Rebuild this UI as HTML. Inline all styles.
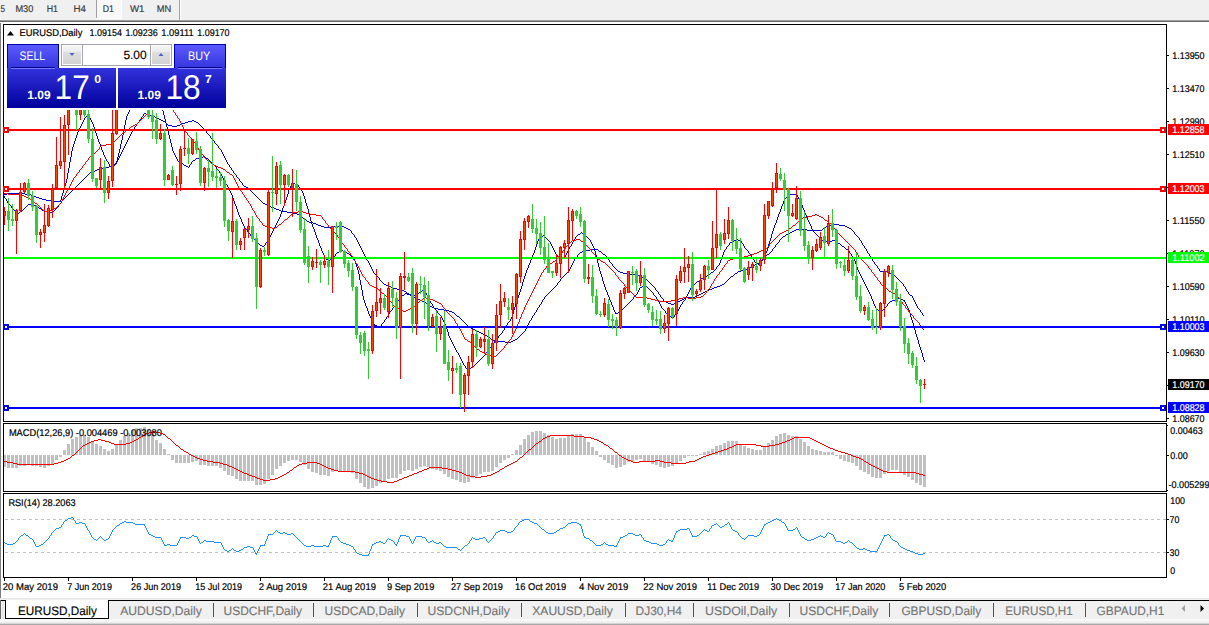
<!DOCTYPE html><html><head><meta charset="utf-8"><title>EURUSD,Daily</title><style>
html,body{margin:0;padding:0;background:#fff;width:1209px;height:625px;overflow:hidden}
svg{position:absolute;left:0;top:0;display:block}
text{font-family:"Liberation Sans", sans-serif;white-space:pre}
</style></head><body>
<svg width="1209" height="625" viewBox="0 0 1209 625" text-rendering="geometricPrecision">
<defs>
<linearGradient id="gtab" x1="0" y1="0" x2="0" y2="1"><stop offset="0" stop-color="#5a5aff"/><stop offset="1" stop-color="#3434dc"/></linearGradient>
<linearGradient id="gpan" x1="0" y1="0" x2="0" y2="1"><stop offset="0" stop-color="#3232dc"/><stop offset="1" stop-color="#00009c"/></linearGradient>
<linearGradient id="gbtn" x1="0" y1="0" x2="0" y2="1"><stop offset="0" stop-color="#f3f3f3"/><stop offset="0.33" stop-color="#ececec"/><stop offset="0.34" stop-color="#dedede"/><stop offset="1" stop-color="#d2d2d2"/></linearGradient>
<clipPath id="cm"><rect x="4" y="25" width="1162" height="396"/></clipPath>
<clipPath id="cmacd"><rect x="4" y="424" width="1162" height="67"/></clipPath>
<clipPath id="crsi"><rect x="4" y="494" width="1162" height="83"/></clipPath>
</defs>
<g shape-rendering="crispEdges">
<rect x="0" y="0" width="1209" height="625" fill="#ffffff"/>
<rect x="0" y="0" width="1209" height="20" fill="#f0f0f0"/>
<rect x="97" y="0" width="24" height="18" fill="#f8f8f8"/>
<rect x="121" y="0" width="1" height="19" fill="#ffffff"/>
<rect x="96" y="18" width="26" height="1" fill="#ffffff"/>
<rect x="96" y="0" width="1" height="18" fill="#a0a0a0"/>
<rect x="179" y="0" width="1" height="20" fill="#a0a0a0"/>
<rect x="180" y="0" width="1" height="20" fill="#ffffff"/>
<rect x="0" y="20" width="1209" height="1" fill="#a0a0a0"/>
<rect x="0" y="21" width="1209" height="1" fill="#696969"/>
<rect x="0" y="22" width="1209" height="1" fill="#ffffff"/>
<rect x="0" y="23" width="1" height="575" fill="#808080"/>
</g>
<path d="M144 113.5h2M143 114.5h1M146 114.5h4M143 115.5h1M150 115.5h2M142 116.5h1M152 116.5h3M141 117.5h1M155 117.5h2M141 118.5h1M157 118.5h2M140 119.5h1M159 119.5h2M139 120.5h1M161 120.5h2M192 120.5h2M139 121.5h1M163 121.5h2M188 121.5h4M194 121.5h2M138 122.5h1M165 122.5h1M185 122.5h3M196 122.5h2M137 123.5h1M166 123.5h1M182 123.5h3M198 123.5h1M136 124.5h1M167 124.5h1M180 124.5h2M199 124.5h1M136 125.5h1M168 125.5h4M177 125.5h3M200 125.5h1M135 126.5h1M172 126.5h5M201 126.5h1M134 127.5h1M202 127.5h1M134 128.5h1M203 128.5h1M133 129.5h1M204 129.5h1M132 130.5h1M205 130.5h1M132 131.5h1M206 131.5h1M131 132.5h1M206 132.5h1M131 133.5h1M207 133.5h1M130 134.5h1M208 134.5h1M130 135.5h1M209 135.5h1M129 136.5h1M210 136.5h1M129 137.5h1M210 137.5h1M128 138.5h1M211 138.5h1M128 139.5h1M212 139.5h1M127 140.5h1M213 140.5h1M127 141.5h1M214 141.5h1M126 142.5h1M214 142.5h1M126 143.5h1M215 143.5h1M125 144.5h1M216 144.5h1M125 145.5h1M217 145.5h1M124 146.5h1M218 146.5h1M124 147.5h1M218 147.5h1M123 148.5h1M219 148.5h1M123 149.5h1M220 149.5h1M122 150.5h1M221 150.5h1M122 151.5h1M221 151.5h1M121 152.5h1M222 152.5h1M121 153.5h1M222 153.5h1M120 154.5h1M223 154.5h1M120 155.5h1M223 155.5h1M119 156.5h1M224 156.5h1M119 157.5h1M224 157.5h1M118 158.5h1M225 158.5h1M118 159.5h1M225 159.5h1M117 160.5h1M226 160.5h1M117 161.5h1M226 161.5h1M116 162.5h1M227 162.5h1M116 163.5h1M227 163.5h1M114 164.5h2M228 164.5h1M112 165.5h2M229 165.5h1M109 166.5h3M229 166.5h1M105 167.5h4M230 167.5h1M101 168.5h4M231 168.5h1M97 169.5h4M231 169.5h1M95 170.5h2M232 170.5h1M92 171.5h3M233 171.5h1M90 172.5h2M233 172.5h1M89 173.5h1M234 173.5h1M88 174.5h1M235 174.5h1M87 175.5h1M236 175.5h1M86 176.5h1M236 176.5h1M85 177.5h1M237 177.5h1M84 178.5h1M238 178.5h1M83 179.5h1M239 179.5h1M82 180.5h1M239 180.5h1M81 181.5h1M240 181.5h1M80 182.5h1M241 182.5h1M79 183.5h1M242 183.5h1M78 184.5h1M242 184.5h1M77 185.5h1M243 185.5h1M76 186.5h1M244 186.5h2M75 187.5h1M246 187.5h2M74 188.5h1M248 188.5h1M73 189.5h1M249 189.5h1M72 190.5h1M250 190.5h1M71 191.5h1M251 191.5h1M70 192.5h1M252 192.5h1M69 193.5h1M253 193.5h1M68 194.5h1M254 194.5h1M67 195.5h1M255 195.5h1M4 196.5h1M66 196.5h1M256 196.5h1M4 197.5h1M65 197.5h1M257 197.5h1M5 198.5h1M64 198.5h1M258 198.5h1M6 199.5h1M63 199.5h1M259 199.5h1M6 200.5h1M62 200.5h1M260 200.5h1M7 201.5h1M61 201.5h1M261 201.5h1M7 202.5h1M61 202.5h1M262 202.5h1M8 203.5h1M60 203.5h1M263 203.5h2M9 204.5h1M28 204.5h6M59 204.5h1M265 204.5h2M10 205.5h1M27 205.5h1M34 205.5h2M58 205.5h1M267 205.5h2M11 206.5h1M26 206.5h1M36 206.5h2M58 206.5h1M269 206.5h2M11 207.5h1M25 207.5h1M38 207.5h1M57 207.5h1M271 207.5h3M12 208.5h1M24 208.5h1M39 208.5h2M56 208.5h1M274 208.5h2M13 209.5h1M23 209.5h1M41 209.5h1M55 209.5h1M276 209.5h3M14 210.5h1M22 210.5h1M42 210.5h2M54 210.5h1M279 210.5h2M15 211.5h1M20 211.5h2M44 211.5h3M53 211.5h1M281 211.5h6M16 212.5h2M19 212.5h1M47 212.5h6M287 212.5h6M18 213.5h1M293 213.5h4M297 214.5h3M300 215.5h1M301 216.5h1M302 217.5h1M303 218.5h2M305 219.5h1M306 220.5h1M307 221.5h2M309 222.5h4M313 223.5h3M316 224.5h2M831 224.5h8M318 225.5h3M827 225.5h4M839 225.5h6M321 226.5h3M331 226.5h13M826 226.5h1M845 226.5h2M324 227.5h7M344 227.5h2M825 227.5h1M847 227.5h2M346 228.5h2M823 228.5h2M849 228.5h2M348 229.5h2M796 229.5h11M822 229.5h1M851 229.5h1M350 230.5h1M794 230.5h2M807 230.5h15M852 230.5h1M351 231.5h1M792 231.5h2M853 231.5h1M351 232.5h1M790 232.5h2M854 232.5h1M352 233.5h1M788 233.5h2M854 233.5h1M353 234.5h1M786 234.5h2M855 234.5h1M354 235.5h1M785 235.5h1M856 235.5h1M354 236.5h1M783 236.5h2M857 236.5h1M355 237.5h1M782 237.5h1M858 237.5h1M356 238.5h1M781 238.5h1M859 238.5h1M356 239.5h1M780 239.5h1M859 239.5h1M357 240.5h1M779 240.5h1M860 240.5h1M357 241.5h1M779 241.5h1M861 241.5h1M358 242.5h1M778 242.5h1M861 242.5h1M358 243.5h1M777 243.5h1M862 243.5h1M359 244.5h1M776 244.5h1M862 244.5h1M359 245.5h1M775 245.5h1M863 245.5h1M360 246.5h1M775 246.5h1M864 246.5h1M360 247.5h1M774 247.5h1M864 247.5h1M361 248.5h1M773 248.5h1M865 248.5h1M361 249.5h1M590 249.5h8M772 249.5h1M866 249.5h1M362 250.5h1M585 250.5h5M598 250.5h1M772 250.5h1M866 250.5h1M362 251.5h1M582 251.5h3M599 251.5h2M771 251.5h1M867 251.5h1M363 252.5h1M580 252.5h2M601 252.5h1M770 252.5h1M867 252.5h1M363 253.5h1M579 253.5h1M602 253.5h1M769 253.5h1M868 253.5h1M364 254.5h1M578 254.5h1M603 254.5h2M767 254.5h2M869 254.5h1M364 255.5h1M577 255.5h1M605 255.5h1M766 255.5h1M869 255.5h1M365 256.5h1M577 256.5h1M606 256.5h1M765 256.5h1M870 256.5h1M365 257.5h1M576 257.5h1M606 257.5h1M764 257.5h1M871 257.5h1M366 258.5h1M575 258.5h1M607 258.5h1M763 258.5h1M871 258.5h1M366 259.5h1M574 259.5h1M608 259.5h1M762 259.5h1M872 259.5h1M367 260.5h1M574 260.5h1M609 260.5h1M761 260.5h1M872 260.5h1M368 261.5h1M573 261.5h1M609 261.5h1M760 261.5h1M873 261.5h1M368 262.5h1M573 262.5h1M610 262.5h1M759 262.5h1M874 262.5h1M369 263.5h1M572 263.5h1M611 263.5h1M757 263.5h2M874 263.5h1M369 264.5h1M572 264.5h1M612 264.5h1M755 264.5h2M875 264.5h1M370 265.5h1M571 265.5h1M612 265.5h1M753 265.5h2M876 265.5h1M370 266.5h1M571 266.5h1M613 266.5h1M751 266.5h2M877 266.5h1M371 267.5h1M570 267.5h1M614 267.5h1M749 267.5h2M877 267.5h1M371 268.5h1M570 268.5h1M615 268.5h1M747 268.5h2M878 268.5h1M372 269.5h1M569 269.5h1M616 269.5h1M745 269.5h2M879 269.5h1M372 270.5h1M569 270.5h1M617 270.5h1M741 270.5h4M879 270.5h1M373 271.5h1M568 271.5h1M618 271.5h2M738 271.5h3M880 271.5h7M373 272.5h1M567 272.5h1M620 272.5h3M737 272.5h1M887 272.5h2M374 273.5h1M566 273.5h1M623 273.5h5M735 273.5h2M889 273.5h2M375 274.5h1M565 274.5h1M628 274.5h8M734 274.5h1M891 274.5h2M376 275.5h1M564 275.5h1M636 275.5h4M733 275.5h1M893 275.5h2M377 276.5h1M563 276.5h1M640 276.5h2M731 276.5h2M895 276.5h1M378 277.5h1M562 277.5h1M642 277.5h1M730 277.5h1M896 277.5h1M379 278.5h1M561 278.5h1M643 278.5h2M729 278.5h1M897 278.5h1M379 279.5h1M560 279.5h1M645 279.5h2M728 279.5h1M898 279.5h1M380 280.5h1M560 280.5h1M647 280.5h1M727 280.5h1M899 280.5h1M381 281.5h1M559 281.5h1M648 281.5h1M726 281.5h1M900 281.5h1M382 282.5h1M558 282.5h1M649 282.5h1M725 282.5h1M901 282.5h1M383 283.5h1M557 283.5h1M650 283.5h1M724 283.5h1M902 283.5h1M384 284.5h2M557 284.5h1M651 284.5h1M722 284.5h2M903 284.5h1M386 285.5h2M556 285.5h1M652 285.5h1M720 285.5h2M903 285.5h1M388 286.5h3M555 286.5h1M653 286.5h1M717 286.5h3M904 286.5h1M391 287.5h2M554 287.5h1M654 287.5h1M714 287.5h3M905 287.5h1M393 288.5h4M553 288.5h1M655 288.5h1M712 288.5h2M905 288.5h1M397 289.5h4M552 289.5h1M655 289.5h1M709 289.5h3M906 289.5h1M401 290.5h3M551 290.5h1M656 290.5h1M707 290.5h2M906 290.5h1M404 291.5h2M550 291.5h1M657 291.5h1M705 291.5h2M907 291.5h1M406 292.5h1M549 292.5h1M658 292.5h1M703 292.5h2M908 292.5h1M407 293.5h2M548 293.5h1M658 293.5h1M701 293.5h2M908 293.5h1M409 294.5h2M547 294.5h1M659 294.5h1M699 294.5h2M909 294.5h1M411 295.5h1M546 295.5h1M660 295.5h1M697 295.5h2M910 295.5h2M412 296.5h2M545 296.5h1M660 296.5h1M695 296.5h2M912 296.5h1M414 297.5h2M544 297.5h1M661 297.5h1M686 297.5h9M912 297.5h1M416 298.5h2M544 298.5h1M662 298.5h1M684 298.5h2M913 298.5h1M418 299.5h2M543 299.5h1M663 299.5h1M682 299.5h2M913 299.5h1M420 300.5h2M542 300.5h1M663 300.5h1M680 300.5h2M914 300.5h1M422 301.5h2M542 301.5h1M664 301.5h2M678 301.5h2M914 301.5h1M424 302.5h2M541 302.5h1M666 302.5h2M676 302.5h2M915 302.5h1M426 303.5h1M541 303.5h1M668 303.5h3M674 303.5h2M915 303.5h1M427 304.5h2M540 304.5h1M671 304.5h3M916 304.5h1M429 305.5h1M539 305.5h1M916 305.5h1M430 306.5h2M539 306.5h1M917 306.5h1M432 307.5h2M538 307.5h1M917 307.5h1M434 308.5h4M537 308.5h1M918 308.5h1M438 309.5h6M537 309.5h1M919 309.5h1M444 310.5h5M536 310.5h1M920 310.5h1M449 311.5h3M536 311.5h1M920 311.5h1M452 312.5h2M535 312.5h1M921 312.5h1M454 313.5h1M534 313.5h1M922 313.5h1M455 314.5h1M534 314.5h1M922 314.5h1M456 315.5h1M533 315.5h1M923 315.5h1M457 316.5h2M532 316.5h1M459 317.5h1M532 317.5h1M460 318.5h1M531 318.5h1M461 319.5h1M531 319.5h1M462 320.5h1M530 320.5h1M463 321.5h1M529 321.5h1M464 322.5h1M529 322.5h1M465 323.5h1M528 323.5h1M466 324.5h1M528 324.5h1M467 325.5h1M527 325.5h1M468 326.5h1M527 326.5h1M469 327.5h2M526 327.5h1M471 328.5h2M526 328.5h1M473 329.5h2M525 329.5h1M475 330.5h2M525 330.5h1M477 331.5h2M524 331.5h1M479 332.5h2M523 332.5h1M481 333.5h2M522 333.5h1M483 334.5h2M521 334.5h1M485 335.5h2M520 335.5h1M487 336.5h2M519 336.5h1M489 337.5h1M518 337.5h1M490 338.5h1M517 338.5h1M491 339.5h2M515 339.5h2M493 340.5h4M513 340.5h2M497 341.5h8M511 341.5h2M505 342.5h6" fill="none" stroke="#0000cd" stroke-width="1" shape-rendering="crispEdges"/>
<path d="M131 101.5h30M131 102.5h1M160 102.5h1M131 103.5h1M161 103.5h1M130 104.5h1M161 104.5h1M130 105.5h1M161 105.5h1M130 106.5h1M161 106.5h1M130 107.5h1M162 107.5h1M129 108.5h1M162 108.5h1M129 109.5h1M162 109.5h1M129 110.5h1M162 110.5h1M129 111.5h1M163 111.5h1M128 112.5h1M163 112.5h1M128 113.5h1M163 113.5h1M88 114.5h1M127 114.5h1M163 114.5h1M87 115.5h2M127 115.5h1M164 115.5h1M86 116.5h1M89 116.5h1M126 116.5h1M164 116.5h1M85 117.5h1M89 117.5h1M126 117.5h1M164 117.5h1M84 118.5h1M90 118.5h1M126 118.5h1M164 118.5h1M84 119.5h1M90 119.5h1M126 119.5h1M165 119.5h1M83 120.5h1M91 120.5h1M125 120.5h1M165 120.5h1M83 121.5h1M91 121.5h1M125 121.5h1M165 121.5h1M82 122.5h1M92 122.5h1M125 122.5h1M165 122.5h1M82 123.5h1M92 123.5h1M125 123.5h1M166 123.5h1M81 124.5h1M93 124.5h1M125 124.5h1M166 124.5h1M81 125.5h1M93 125.5h1M124 125.5h1M166 125.5h1M80 126.5h1M93 126.5h1M124 126.5h1M166 126.5h1M80 127.5h1M94 127.5h1M124 127.5h1M167 127.5h1M79 128.5h1M94 128.5h1M124 128.5h1M167 128.5h1M79 129.5h1M94 129.5h1M124 129.5h1M167 129.5h1M78 130.5h1M95 130.5h1M123 130.5h1M167 130.5h1M78 131.5h1M95 131.5h1M123 131.5h1M168 131.5h1M77 132.5h1M95 132.5h1M123 132.5h1M168 132.5h1M77 133.5h1M96 133.5h1M123 133.5h1M168 133.5h1M77 134.5h1M96 134.5h1M123 134.5h1M168 134.5h1M76 135.5h1M96 135.5h1M122 135.5h1M169 135.5h1M76 136.5h1M97 136.5h1M122 136.5h1M169 136.5h1M76 137.5h1M97 137.5h1M122 137.5h1M169 137.5h1M75 138.5h1M97 138.5h1M122 138.5h1M169 138.5h1M75 139.5h1M98 139.5h1M122 139.5h1M170 139.5h1M75 140.5h1M98 140.5h1M121 140.5h1M170 140.5h1M74 141.5h1M98 141.5h1M121 141.5h1M170 141.5h1M74 142.5h1M99 142.5h1M121 142.5h1M170 142.5h1M74 143.5h1M99 143.5h1M121 143.5h1M171 143.5h1M73 144.5h1M100 144.5h1M120 144.5h1M171 144.5h1M73 145.5h1M100 145.5h1M120 145.5h1M171 145.5h1M73 146.5h1M100 146.5h1M120 146.5h1M171 146.5h1M72 147.5h1M101 147.5h1M120 147.5h1M172 147.5h1M72 148.5h1M101 148.5h1M120 148.5h1M172 148.5h1M72 149.5h1M101 149.5h1M119 149.5h1M172 149.5h1M72 150.5h1M102 150.5h1M119 150.5h1M172 150.5h1M71 151.5h1M102 151.5h1M119 151.5h1M173 151.5h1M71 152.5h1M103 152.5h1M119 152.5h1M173 152.5h1M71 153.5h1M103 153.5h1M118 153.5h1M174 153.5h1M71 154.5h1M103 154.5h1M118 154.5h1M174 154.5h1M71 155.5h1M104 155.5h1M118 155.5h1M175 155.5h1M71 156.5h1M104 156.5h1M118 156.5h1M175 156.5h1M203 156.5h2M70 157.5h1M105 157.5h1M117 157.5h1M176 157.5h1M199 157.5h4M205 157.5h1M70 158.5h1M105 158.5h1M117 158.5h1M176 158.5h1M196 158.5h3M206 158.5h2M70 159.5h1M106 159.5h1M117 159.5h1M177 159.5h1M195 159.5h1M208 159.5h1M70 160.5h1M106 160.5h1M117 160.5h1M177 160.5h1M193 160.5h2M209 160.5h1M70 161.5h1M107 161.5h1M116 161.5h1M178 161.5h2M192 161.5h1M210 161.5h1M69 162.5h1M108 162.5h1M116 162.5h1M180 162.5h1M191 162.5h1M211 162.5h1M69 163.5h1M108 163.5h1M115 163.5h1M181 163.5h2M191 163.5h1M212 163.5h1M69 164.5h1M109 164.5h1M115 164.5h1M183 164.5h1M190 164.5h1M213 164.5h1M69 165.5h1M109 165.5h1M113 165.5h2M184 165.5h2M189 165.5h1M214 165.5h1M69 166.5h1M110 166.5h3M186 166.5h2M189 166.5h1M215 166.5h1M69 167.5h1M188 167.5h1M216 167.5h1M68 168.5h1M216 168.5h1M68 169.5h1M217 169.5h1M68 170.5h1M218 170.5h1M68 171.5h1M219 171.5h1M68 172.5h1M219 172.5h1M67 173.5h1M220 173.5h1M67 174.5h1M221 174.5h1M67 175.5h1M221 175.5h1M67 176.5h1M222 176.5h1M67 177.5h1M222 177.5h1M67 178.5h1M223 178.5h1M66 179.5h1M223 179.5h1M66 180.5h1M224 180.5h1M66 181.5h1M224 181.5h1M66 182.5h1M225 182.5h1M65 183.5h1M225 183.5h1M292 183.5h3M65 184.5h1M226 184.5h1M291 184.5h1M295 184.5h3M65 185.5h1M227 185.5h1M291 185.5h1M298 185.5h1M64 186.5h1M227 186.5h1M290 186.5h1M298 186.5h1M64 187.5h1M228 187.5h1M290 187.5h1M299 187.5h1M64 188.5h1M228 188.5h1M289 188.5h1M300 188.5h1M64 189.5h1M229 189.5h1M289 189.5h1M301 189.5h1M63 190.5h1M229 190.5h1M288 190.5h1M301 190.5h1M63 191.5h1M230 191.5h1M288 191.5h1M302 191.5h1M63 192.5h1M230 192.5h1M288 192.5h1M302 192.5h1M7 193.5h18M62 193.5h1M231 193.5h1M288 193.5h1M303 193.5h1M4 194.5h3M25 194.5h6M62 194.5h1M231 194.5h1M287 194.5h1M303 194.5h1M789 194.5h8M31 195.5h2M62 195.5h1M232 195.5h1M287 195.5h1M303 195.5h1M788 195.5h1M797 195.5h1M33 196.5h3M61 196.5h1M232 196.5h1M287 196.5h1M304 196.5h1M787 196.5h1M797 196.5h1M36 197.5h3M61 197.5h1M232 197.5h1M286 197.5h1M304 197.5h1M786 197.5h1M798 197.5h1M39 198.5h3M61 198.5h1M233 198.5h1M286 198.5h1M304 198.5h1M785 198.5h1M798 198.5h1M42 199.5h4M61 199.5h1M233 199.5h1M286 199.5h1M305 199.5h1M784 199.5h1M799 199.5h1M46 200.5h8M60 200.5h1M233 200.5h1M285 200.5h1M305 200.5h1M784 200.5h1M799 200.5h1M54 201.5h7M234 201.5h1M285 201.5h1M305 201.5h1M783 201.5h1M800 201.5h1M234 202.5h1M285 202.5h1M305 202.5h1M783 202.5h1M800 202.5h1M234 203.5h1M284 203.5h1M306 203.5h1M783 203.5h1M801 203.5h1M235 204.5h1M284 204.5h1M306 204.5h1M782 204.5h1M801 204.5h1M235 205.5h1M284 205.5h1M306 205.5h1M782 205.5h1M802 205.5h1M236 206.5h1M283 206.5h1M307 206.5h1M781 206.5h1M802 206.5h1M236 207.5h1M283 207.5h1M307 207.5h1M781 207.5h1M802 207.5h1M236 208.5h1M282 208.5h1M307 208.5h1M781 208.5h1M803 208.5h1M237 209.5h1M282 209.5h1M308 209.5h1M780 209.5h1M803 209.5h1M237 210.5h1M282 210.5h1M308 210.5h1M780 210.5h1M804 210.5h1M237 211.5h1M281 211.5h1M308 211.5h1M780 211.5h1M804 211.5h1M238 212.5h1M281 212.5h1M308 212.5h1M779 212.5h1M804 212.5h1M238 213.5h1M281 213.5h1M309 213.5h1M779 213.5h1M805 213.5h1M238 214.5h1M280 214.5h1M309 214.5h1M778 214.5h1M805 214.5h1M239 215.5h1M280 215.5h1M309 215.5h1M778 215.5h1M806 215.5h1M239 216.5h1M280 216.5h1M309 216.5h1M778 216.5h1M806 216.5h1M240 217.5h1M279 217.5h1M310 217.5h1M777 217.5h1M807 217.5h1M240 218.5h1M279 218.5h1M310 218.5h1M777 218.5h1M807 218.5h1M241 219.5h1M278 219.5h1M310 219.5h1M777 219.5h1M807 219.5h1M241 220.5h1M278 220.5h1M310 220.5h1M776 220.5h1M808 220.5h1M241 221.5h1M277 221.5h1M311 221.5h1M776 221.5h1M808 221.5h1M242 222.5h1M277 222.5h1M311 222.5h1M776 222.5h1M809 222.5h1M242 223.5h1M276 223.5h1M311 223.5h1M775 223.5h1M809 223.5h1M243 224.5h1M276 224.5h1M312 224.5h1M775 224.5h1M810 224.5h1M243 225.5h1M275 225.5h1M312 225.5h1M774 225.5h1M810 225.5h1M244 226.5h1M275 226.5h1M312 226.5h1M774 226.5h1M811 226.5h1M244 227.5h1M274 227.5h1M313 227.5h1M774 227.5h1M811 227.5h1M245 228.5h1M274 228.5h1M313 228.5h1M773 228.5h1M811 228.5h1M246 229.5h1M273 229.5h1M314 229.5h1M773 229.5h1M812 229.5h1M247 230.5h1M273 230.5h1M314 230.5h1M773 230.5h1M812 230.5h1M247 231.5h1M272 231.5h1M314 231.5h1M772 231.5h1M813 231.5h1M248 232.5h1M272 232.5h1M315 232.5h1M581 232.5h1M772 232.5h1M814 232.5h1M249 233.5h1M271 233.5h1M315 233.5h1M580 233.5h1M582 233.5h1M772 233.5h1M815 233.5h1M250 234.5h1M271 234.5h1M315 234.5h1M578 234.5h2M583 234.5h2M771 234.5h1M816 234.5h1M250 235.5h1M270 235.5h1M316 235.5h1M543 235.5h1M577 235.5h1M585 235.5h1M771 235.5h1M817 235.5h1M251 236.5h1M270 236.5h1M316 236.5h1M542 236.5h1M544 236.5h1M576 236.5h1M586 236.5h1M771 236.5h1M818 236.5h1M252 237.5h1M269 237.5h1M316 237.5h1M540 237.5h2M545 237.5h1M575 237.5h1M587 237.5h1M771 237.5h1M819 237.5h1M253 238.5h1M268 238.5h1M317 238.5h1M539 238.5h1M546 238.5h1M575 238.5h1M588 238.5h1M770 238.5h1M820 238.5h1M254 239.5h1M268 239.5h1M317 239.5h1M538 239.5h1M547 239.5h1M574 239.5h1M589 239.5h1M736 239.5h2M770 239.5h1M821 239.5h1M255 240.5h1M267 240.5h1M318 240.5h1M538 240.5h1M548 240.5h1M574 240.5h1M590 240.5h1M734 240.5h2M738 240.5h3M770 240.5h1M822 240.5h1M832 240.5h3M256 241.5h1M267 241.5h1M318 241.5h1M537 241.5h1M549 241.5h1M573 241.5h1M590 241.5h1M732 241.5h2M741 241.5h1M769 241.5h1M823 241.5h9M835 241.5h2M257 242.5h1M266 242.5h1M318 242.5h1M537 242.5h1M550 242.5h1M572 242.5h1M591 242.5h1M730 242.5h2M741 242.5h1M769 242.5h1M837 242.5h1M258 243.5h1M265 243.5h1M319 243.5h1M537 243.5h1M550 243.5h1M572 243.5h1M591 243.5h1M729 243.5h1M742 243.5h1M769 243.5h1M838 243.5h2M259 244.5h1M265 244.5h1M319 244.5h1M536 244.5h1M551 244.5h1M571 244.5h1M592 244.5h1M729 244.5h1M743 244.5h1M768 244.5h1M840 244.5h1M260 245.5h2M264 245.5h1M319 245.5h1M536 245.5h1M551 245.5h1M571 245.5h1M592 245.5h1M728 245.5h1M743 245.5h1M768 245.5h1M841 245.5h1M262 246.5h2M320 246.5h1M536 246.5h1M552 246.5h1M570 246.5h1M593 246.5h1M727 246.5h1M744 246.5h1M768 246.5h1M842 246.5h2M320 247.5h1M535 247.5h1M552 247.5h1M569 247.5h1M593 247.5h1M726 247.5h1M744 247.5h1M768 247.5h1M844 247.5h1M321 248.5h1M535 248.5h1M553 248.5h1M569 248.5h1M594 248.5h1M726 248.5h1M745 248.5h1M767 248.5h1M845 248.5h1M321 249.5h1M535 249.5h1M553 249.5h1M568 249.5h1M594 249.5h1M725 249.5h1M746 249.5h1M767 249.5h1M846 249.5h2M321 250.5h1M341 250.5h2M534 250.5h1M554 250.5h1M568 250.5h1M594 250.5h1M724 250.5h1M747 250.5h1M767 250.5h1M848 250.5h1M322 251.5h1M339 251.5h2M343 251.5h2M534 251.5h1M554 251.5h1M567 251.5h1M595 251.5h1M724 251.5h1M748 251.5h1M766 251.5h1M849 251.5h1M322 252.5h1M337 252.5h2M345 252.5h2M534 252.5h1M555 252.5h1M567 252.5h1M595 252.5h1M723 252.5h1M748 252.5h1M766 252.5h1M849 252.5h1M323 253.5h1M336 253.5h1M347 253.5h2M533 253.5h1M555 253.5h1M566 253.5h1M595 253.5h1M723 253.5h1M749 253.5h1M765 253.5h1M850 253.5h1M323 254.5h1M335 254.5h1M349 254.5h1M533 254.5h1M556 254.5h1M566 254.5h1M595 254.5h1M723 254.5h1M750 254.5h1M765 254.5h1M851 254.5h1M324 255.5h1M335 255.5h1M350 255.5h1M532 255.5h1M557 255.5h1M565 255.5h1M596 255.5h1M722 255.5h1M751 255.5h1M765 255.5h1M851 255.5h1M324 256.5h1M334 256.5h1M351 256.5h1M532 256.5h1M557 256.5h1M565 256.5h1M596 256.5h1M722 256.5h1M751 256.5h1M764 256.5h1M852 256.5h1M325 257.5h1M333 257.5h1M352 257.5h1M532 257.5h1M558 257.5h1M562 257.5h3M596 257.5h1M722 257.5h1M752 257.5h1M764 257.5h1M853 257.5h1M325 258.5h1M332 258.5h1M353 258.5h1M531 258.5h1M559 258.5h3M596 258.5h1M721 258.5h1M753 258.5h1M763 258.5h1M853 258.5h1M326 259.5h2M330 259.5h2M354 259.5h1M531 259.5h1M597 259.5h1M721 259.5h1M753 259.5h1M763 259.5h1M854 259.5h1M328 260.5h2M354 260.5h1M530 260.5h1M597 260.5h1M720 260.5h1M754 260.5h1M762 260.5h1M854 260.5h1M355 261.5h1M530 261.5h1M597 261.5h1M720 261.5h1M754 261.5h1M761 261.5h1M855 261.5h1M355 262.5h1M530 262.5h1M597 262.5h1M720 262.5h1M755 262.5h1M761 262.5h1M855 262.5h1M355 263.5h1M529 263.5h1M598 263.5h1M719 263.5h1M756 263.5h2M760 263.5h1M855 263.5h1M356 264.5h1M529 264.5h1M598 264.5h1M719 264.5h1M758 264.5h2M856 264.5h1M356 265.5h1M528 265.5h1M598 265.5h1M718 265.5h1M856 265.5h1M356 266.5h1M528 266.5h1M598 266.5h1M717 266.5h1M856 266.5h1M357 267.5h1M528 267.5h1M599 267.5h1M716 267.5h1M857 267.5h1M357 268.5h1M527 268.5h1M599 268.5h1M716 268.5h1M857 268.5h1M357 269.5h1M527 269.5h1M599 269.5h1M715 269.5h1M857 269.5h1M358 270.5h1M526 270.5h1M599 270.5h1M714 270.5h1M858 270.5h1M358 271.5h1M526 271.5h1M600 271.5h1M713 271.5h1M858 271.5h1M358 272.5h1M526 272.5h1M600 272.5h1M711 272.5h2M859 272.5h1M358 273.5h1M525 273.5h1M600 273.5h1M710 273.5h1M859 273.5h1M359 274.5h1M525 274.5h1M601 274.5h1M708 274.5h2M860 274.5h1M359 275.5h1M525 275.5h1M601 275.5h1M707 275.5h1M860 275.5h1M359 276.5h1M524 276.5h1M601 276.5h1M705 276.5h2M861 276.5h1M359 277.5h1M524 277.5h1M602 277.5h1M703 277.5h2M861 277.5h1M359 278.5h1M524 278.5h1M602 278.5h1M701 278.5h2M862 278.5h1M359 279.5h1M523 279.5h1M602 279.5h1M700 279.5h1M862 279.5h1M360 280.5h1M523 280.5h1M602 280.5h1M699 280.5h1M863 280.5h1M360 281.5h1M523 281.5h1M603 281.5h1M697 281.5h2M863 281.5h1M360 282.5h1M522 282.5h1M603 282.5h1M696 282.5h1M864 282.5h1M360 283.5h1M522 283.5h1M603 283.5h1M695 283.5h1M864 283.5h1M360 284.5h1M522 284.5h1M604 284.5h1M694 284.5h1M865 284.5h1M361 285.5h1M522 285.5h1M604 285.5h1M644 285.5h2M693 285.5h1M865 285.5h1M361 286.5h1M521 286.5h1M604 286.5h1M642 286.5h2M646 286.5h1M692 286.5h1M866 286.5h1M361 287.5h1M521 287.5h1M605 287.5h1M640 287.5h2M647 287.5h1M691 287.5h1M866 287.5h1M361 288.5h1M521 288.5h1M605 288.5h1M639 288.5h1M648 288.5h1M690 288.5h1M867 288.5h1M361 289.5h1M520 289.5h1M605 289.5h1M639 289.5h1M649 289.5h1M690 289.5h1M867 289.5h1M362 290.5h1M422 290.5h1M520 290.5h1M606 290.5h1M638 290.5h1M650 290.5h1M689 290.5h1M868 290.5h1M362 291.5h1M421 291.5h1M423 291.5h2M520 291.5h1M606 291.5h1M638 291.5h1M651 291.5h1M689 291.5h1M868 291.5h1M362 292.5h1M419 292.5h2M425 292.5h1M519 292.5h1M607 292.5h1M637 292.5h1M652 292.5h1M688 292.5h1M869 292.5h1M362 293.5h1M405 293.5h2M418 293.5h1M426 293.5h1M519 293.5h1M607 293.5h1M637 293.5h1M653 293.5h1M688 293.5h1M869 293.5h1M362 294.5h1M404 294.5h1M407 294.5h3M415 294.5h3M426 294.5h1M519 294.5h1M607 294.5h1M636 294.5h1M653 294.5h1M687 294.5h1M870 294.5h1M362 295.5h1M402 295.5h2M410 295.5h5M427 295.5h1M518 295.5h1M608 295.5h1M635 295.5h1M654 295.5h1M687 295.5h1M870 295.5h1M363 296.5h1M401 296.5h1M427 296.5h1M518 296.5h1M608 296.5h1M634 296.5h1M655 296.5h1M686 296.5h1M871 296.5h1M363 297.5h1M400 297.5h1M428 297.5h1M518 297.5h1M609 297.5h1M633 297.5h1M656 297.5h1M686 297.5h1M871 297.5h1M363 298.5h1M399 298.5h1M428 298.5h1M517 298.5h1M609 298.5h1M633 298.5h1M656 298.5h1M685 298.5h1M871 298.5h1M897 298.5h3M363 299.5h1M399 299.5h1M429 299.5h1M517 299.5h1M609 299.5h1M632 299.5h1M657 299.5h1M685 299.5h1M872 299.5h1M895 299.5h2M900 299.5h3M364 300.5h1M398 300.5h1M429 300.5h1M517 300.5h1M610 300.5h1M631 300.5h1M658 300.5h1M684 300.5h1M872 300.5h1M892 300.5h3M903 300.5h2M364 301.5h1M397 301.5h1M430 301.5h1M516 301.5h1M610 301.5h1M630 301.5h1M658 301.5h1M683 301.5h1M873 301.5h1M890 301.5h2M904 301.5h1M364 302.5h1M397 302.5h1M430 302.5h1M516 302.5h1M611 302.5h1M629 302.5h1M659 302.5h1M682 302.5h1M873 302.5h1M889 302.5h1M905 302.5h1M365 303.5h1M396 303.5h1M431 303.5h1M516 303.5h1M611 303.5h1M628 303.5h1M659 303.5h1M682 303.5h1M873 303.5h1M888 303.5h1M905 303.5h1M365 304.5h1M395 304.5h1M432 304.5h1M515 304.5h1M611 304.5h1M627 304.5h1M660 304.5h1M681 304.5h1M874 304.5h1M887 304.5h1M906 304.5h1M365 305.5h1M395 305.5h1M432 305.5h1M515 305.5h1M612 305.5h1M626 305.5h1M660 305.5h1M680 305.5h1M874 305.5h1M887 305.5h1M906 305.5h1M366 306.5h1M394 306.5h1M433 306.5h1M515 306.5h1M612 306.5h1M625 306.5h1M661 306.5h1M680 306.5h1M875 306.5h1M886 306.5h1M907 306.5h1M366 307.5h1M393 307.5h1M433 307.5h1M514 307.5h1M613 307.5h1M624 307.5h1M661 307.5h1M679 307.5h1M875 307.5h1M885 307.5h1M907 307.5h1M367 308.5h1M392 308.5h1M434 308.5h1M514 308.5h1M613 308.5h1M623 308.5h1M662 308.5h1M679 308.5h1M876 308.5h1M884 308.5h1M908 308.5h1M367 309.5h1M392 309.5h1M435 309.5h1M514 309.5h1M613 309.5h1M622 309.5h1M663 309.5h1M678 309.5h1M877 309.5h1M883 309.5h1M908 309.5h1M367 310.5h1M391 310.5h1M436 310.5h1M513 310.5h1M614 310.5h1M621 310.5h1M664 310.5h1M678 310.5h1M878 310.5h1M882 310.5h1M909 310.5h1M368 311.5h1M390 311.5h1M437 311.5h1M513 311.5h1M614 311.5h1M620 311.5h1M665 311.5h1M677 311.5h1M879 311.5h1M881 311.5h1M909 311.5h1M368 312.5h1M389 312.5h1M437 312.5h1M513 312.5h1M615 312.5h1M618 312.5h2M665 312.5h1M677 312.5h1M880 312.5h1M909 312.5h1M368 313.5h1M389 313.5h1M438 313.5h1M513 313.5h1M615 313.5h3M666 313.5h1M676 313.5h1M910 313.5h1M369 314.5h1M388 314.5h1M439 314.5h1M512 314.5h1M667 314.5h1M675 314.5h1M910 314.5h1M369 315.5h1M388 315.5h1M440 315.5h1M512 315.5h1M668 315.5h1M674 315.5h1M910 315.5h1M370 316.5h1M387 316.5h1M441 316.5h1M512 316.5h1M669 316.5h2M674 316.5h1M910 316.5h1M370 317.5h1M386 317.5h1M441 317.5h1M511 317.5h1M671 317.5h1M673 317.5h1M911 317.5h1M371 318.5h1M386 318.5h1M442 318.5h1M511 318.5h1M672 318.5h1M911 318.5h1M371 319.5h1M385 319.5h1M442 319.5h1M510 319.5h1M911 319.5h1M372 320.5h1M384 320.5h1M443 320.5h1M510 320.5h1M912 320.5h1M372 321.5h1M384 321.5h1M443 321.5h1M509 321.5h1M912 321.5h1M373 322.5h1M383 322.5h1M444 322.5h1M508 322.5h1M912 322.5h1M373 323.5h1M382 323.5h1M444 323.5h1M507 323.5h1M913 323.5h1M374 324.5h1M381 324.5h1M445 324.5h1M507 324.5h1M913 324.5h1M374 325.5h3M381 325.5h1M445 325.5h1M506 325.5h1M913 325.5h1M377 326.5h4M446 326.5h1M505 326.5h1M913 326.5h1M446 327.5h1M505 327.5h1M914 327.5h1M446 328.5h1M504 328.5h1M914 328.5h1M447 329.5h1M504 329.5h1M914 329.5h1M447 330.5h1M503 330.5h1M915 330.5h1M447 331.5h1M502 331.5h1M915 331.5h1M448 332.5h1M502 332.5h1M915 332.5h1M448 333.5h1M501 333.5h1M915 333.5h1M448 334.5h1M500 334.5h1M916 334.5h1M448 335.5h1M499 335.5h1M916 335.5h1M449 336.5h1M498 336.5h1M916 336.5h1M449 337.5h1M498 337.5h1M917 337.5h1M450 338.5h1M497 338.5h1M917 338.5h1M450 339.5h1M496 339.5h1M917 339.5h1M451 340.5h1M495 340.5h1M918 340.5h1M451 341.5h1M494 341.5h1M918 341.5h1M452 342.5h1M494 342.5h1M918 342.5h1M452 343.5h1M493 343.5h1M918 343.5h1M453 344.5h1M492 344.5h1M919 344.5h1M453 345.5h1M491 345.5h1M919 345.5h1M454 346.5h1M491 346.5h1M919 346.5h1M454 347.5h1M490 347.5h1M920 347.5h1M455 348.5h1M489 348.5h1M920 348.5h1M455 349.5h1M488 349.5h1M920 349.5h1M456 350.5h1M488 350.5h1M921 350.5h1M456 351.5h1M487 351.5h1M921 351.5h1M457 352.5h1M486 352.5h1M921 352.5h1M458 353.5h1M485 353.5h1M922 353.5h1M458 354.5h1M485 354.5h1M922 354.5h1M459 355.5h1M484 355.5h1M922 355.5h1M459 356.5h1M483 356.5h1M922 356.5h1M460 357.5h1M482 357.5h1M923 357.5h1M460 358.5h1M481 358.5h1M923 358.5h1M461 359.5h1M480 359.5h1M923 359.5h1M461 360.5h1M479 360.5h1M924 360.5h1M462 361.5h1M478 361.5h1M924 361.5h1M462 362.5h1M477 362.5h1M463 363.5h1M476 363.5h1M463 364.5h1M475 364.5h1M464 365.5h1M474 365.5h1M465 366.5h1M473 366.5h1M465 367.5h1M471 367.5h2M466 368.5h1M469 368.5h2M467 369.5h2" fill="none" stroke="#0000cd" stroke-width="1" shape-rendering="crispEdges"/>
<path d="M154 101.5h17M154 102.5h1M170 102.5h1M153 103.5h1M171 103.5h1M153 104.5h1M171 104.5h1M152 105.5h1M171 105.5h1M152 106.5h1M171 106.5h1M151 107.5h1M172 107.5h1M151 108.5h1M172 108.5h1M150 109.5h1M172 109.5h1M149 110.5h1M173 110.5h1M148 111.5h1M173 111.5h1M148 112.5h1M174 112.5h1M147 113.5h1M175 113.5h1M146 114.5h1M175 114.5h1M145 115.5h1M176 115.5h1M144 116.5h1M177 116.5h1M143 117.5h1M177 117.5h1M142 118.5h1M178 118.5h1M141 119.5h1M179 119.5h1M140 120.5h1M179 120.5h1M139 121.5h1M180 121.5h1M138 122.5h1M180 122.5h1M137 123.5h1M181 123.5h1M135 124.5h2M181 124.5h1M133 125.5h2M182 125.5h1M131 126.5h2M182 126.5h1M130 127.5h1M183 127.5h1M129 128.5h1M183 128.5h1M127 129.5h2M184 129.5h1M126 130.5h1M185 130.5h1M125 131.5h1M185 131.5h1M123 132.5h2M186 132.5h1M122 133.5h1M187 133.5h1M121 134.5h1M187 134.5h1M120 135.5h1M188 135.5h1M119 136.5h1M189 136.5h1M118 137.5h1M190 137.5h1M117 138.5h1M191 138.5h1M116 139.5h1M191 139.5h1M115 140.5h1M192 140.5h1M114 141.5h1M193 141.5h1M113 142.5h1M194 142.5h1M111 143.5h2M195 143.5h1M106 144.5h5M195 144.5h1M101 145.5h5M196 145.5h1M100 146.5h1M197 146.5h1M99 147.5h1M197 147.5h1M99 148.5h1M198 148.5h1M98 149.5h1M198 149.5h1M97 150.5h1M199 150.5h1M96 151.5h1M200 151.5h1M95 152.5h1M200 152.5h1M94 153.5h1M201 153.5h1M92 154.5h2M202 154.5h1M91 155.5h1M203 155.5h1M90 156.5h1M203 156.5h1M89 157.5h1M204 157.5h1M88 158.5h1M205 158.5h1M88 159.5h1M206 159.5h1M87 160.5h1M207 160.5h2M86 161.5h1M209 161.5h1M85 162.5h1M210 162.5h1M85 163.5h1M211 163.5h2M84 164.5h1M213 164.5h1M83 165.5h1M214 165.5h2M82 166.5h1M216 166.5h2M82 167.5h1M218 167.5h3M81 168.5h1M221 168.5h2M80 169.5h1M223 169.5h2M79 170.5h1M225 170.5h1M79 171.5h1M226 171.5h1M78 172.5h1M227 172.5h2M77 173.5h1M229 173.5h1M76 174.5h1M230 174.5h2M76 175.5h1M232 175.5h1M75 176.5h1M233 176.5h1M74 177.5h1M233 177.5h1M73 178.5h1M234 178.5h1M73 179.5h1M234 179.5h1M72 180.5h1M235 180.5h1M72 181.5h1M235 181.5h1M71 182.5h1M236 182.5h1M71 183.5h1M236 183.5h1M70 184.5h1M237 184.5h1M70 185.5h1M237 185.5h1M69 186.5h1M238 186.5h1M69 187.5h1M238 187.5h1M68 188.5h1M239 188.5h1M67 189.5h1M240 189.5h1M67 190.5h1M240 190.5h1M66 191.5h1M241 191.5h1M66 192.5h1M242 192.5h1M4 193.5h4M65 193.5h1M242 193.5h1M8 194.5h14M65 194.5h1M243 194.5h1M22 195.5h2M64 195.5h1M244 195.5h1M24 196.5h2M64 196.5h1M244 196.5h1M26 197.5h2M63 197.5h1M245 197.5h1M28 198.5h2M63 198.5h1M246 198.5h1M30 199.5h1M62 199.5h1M246 199.5h1M31 200.5h2M62 200.5h1M247 200.5h1M33 201.5h1M61 201.5h1M248 201.5h1M34 202.5h1M61 202.5h1M248 202.5h1M35 203.5h2M60 203.5h1M249 203.5h1M37 204.5h1M59 204.5h1M250 204.5h1M38 205.5h1M58 205.5h1M250 205.5h1M39 206.5h1M57 206.5h1M251 206.5h1M40 207.5h1M56 207.5h1M251 207.5h1M41 208.5h1M54 208.5h2M252 208.5h1M42 209.5h1M52 209.5h2M252 209.5h1M43 210.5h2M49 210.5h3M253 210.5h1M45 211.5h4M254 211.5h1M298 211.5h5M254 212.5h1M293 212.5h5M303 212.5h3M255 213.5h1M292 213.5h1M306 213.5h4M255 214.5h1M291 214.5h1M310 214.5h6M815 214.5h2M256 215.5h1M290 215.5h1M316 215.5h5M812 215.5h3M817 215.5h2M256 216.5h1M289 216.5h1M321 216.5h1M807 216.5h5M819 216.5h2M257 217.5h1M288 217.5h1M322 217.5h1M803 217.5h4M821 217.5h2M258 218.5h1M287 218.5h1M322 218.5h1M802 218.5h1M823 218.5h1M259 219.5h1M285 219.5h2M323 219.5h1M801 219.5h1M824 219.5h1M259 220.5h1M284 220.5h1M324 220.5h1M799 220.5h2M825 220.5h2M260 221.5h1M283 221.5h1M325 221.5h1M798 221.5h1M827 221.5h1M261 222.5h1M282 222.5h1M325 222.5h1M797 222.5h1M828 222.5h1M262 223.5h1M281 223.5h1M326 223.5h1M796 223.5h1M829 223.5h2M262 224.5h1M279 224.5h2M327 224.5h1M795 224.5h1M831 224.5h1M263 225.5h2M278 225.5h1M328 225.5h1M793 225.5h2M832 225.5h1M265 226.5h4M277 226.5h1M328 226.5h1M792 226.5h1M833 226.5h1M269 227.5h3M275 227.5h2M329 227.5h1M791 227.5h1M833 227.5h1M272 228.5h3M330 228.5h1M789 228.5h2M834 228.5h1M331 229.5h1M788 229.5h1M835 229.5h1M332 230.5h1M786 230.5h2M836 230.5h1M333 231.5h1M784 231.5h2M836 231.5h1M334 232.5h1M782 232.5h2M837 232.5h1M335 233.5h1M780 233.5h2M838 233.5h1M336 234.5h1M779 234.5h1M839 234.5h1M337 235.5h1M778 235.5h1M840 235.5h1M337 236.5h1M777 236.5h1M841 236.5h1M338 237.5h1M776 237.5h1M842 237.5h1M339 238.5h1M775 238.5h1M843 238.5h1M339 239.5h1M576 239.5h4M774 239.5h1M844 239.5h1M340 240.5h1M572 240.5h4M580 240.5h1M773 240.5h1M845 240.5h1M341 241.5h1M571 241.5h1M581 241.5h2M772 241.5h1M846 241.5h1M341 242.5h1M570 242.5h1M583 242.5h1M771 242.5h1M847 242.5h1M342 243.5h1M569 243.5h1M584 243.5h1M770 243.5h1M848 243.5h1M343 244.5h1M568 244.5h1M585 244.5h1M769 244.5h1M849 244.5h1M344 245.5h1M567 245.5h1M586 245.5h1M769 245.5h1M850 245.5h1M344 246.5h1M566 246.5h1M587 246.5h1M768 246.5h1M851 246.5h1M345 247.5h1M565 247.5h1M588 247.5h1M767 247.5h1M852 247.5h1M346 248.5h1M565 248.5h1M589 248.5h1M765 248.5h2M853 248.5h1M347 249.5h1M564 249.5h1M590 249.5h1M763 249.5h2M854 249.5h1M347 250.5h1M563 250.5h1M591 250.5h1M761 250.5h2M855 250.5h1M348 251.5h1M562 251.5h1M591 251.5h1M759 251.5h2M855 251.5h1M349 252.5h1M562 252.5h1M592 252.5h1M757 252.5h2M856 252.5h1M350 253.5h1M561 253.5h1M593 253.5h1M754 253.5h3M857 253.5h1M350 254.5h1M560 254.5h1M594 254.5h1M751 254.5h3M857 254.5h1M351 255.5h1M559 255.5h1M595 255.5h1M748 255.5h3M858 255.5h1M352 256.5h1M558 256.5h1M595 256.5h1M744 256.5h4M858 256.5h1M352 257.5h1M558 257.5h1M596 257.5h1M739 257.5h5M859 257.5h1M353 258.5h1M557 258.5h1M597 258.5h1M733 258.5h6M860 258.5h1M353 259.5h1M556 259.5h1M598 259.5h2M730 259.5h3M861 259.5h1M354 260.5h1M555 260.5h1M600 260.5h1M728 260.5h2M862 260.5h1M355 261.5h1M553 261.5h2M601 261.5h2M727 261.5h1M863 261.5h1M355 262.5h1M552 262.5h1M603 262.5h2M727 262.5h1M864 262.5h1M356 263.5h1M550 263.5h2M605 263.5h1M726 263.5h1M865 263.5h1M357 264.5h1M548 264.5h2M606 264.5h1M725 264.5h1M866 264.5h1M357 265.5h1M547 265.5h1M607 265.5h1M724 265.5h1M867 265.5h1M358 266.5h1M546 266.5h1M608 266.5h1M724 266.5h1M868 266.5h1M358 267.5h1M546 267.5h1M609 267.5h1M723 267.5h1M868 267.5h1M359 268.5h1M545 268.5h1M610 268.5h1M722 268.5h1M869 268.5h1M359 269.5h1M544 269.5h1M611 269.5h1M722 269.5h1M870 269.5h1M360 270.5h1M543 270.5h1M612 270.5h1M721 270.5h1M871 270.5h1M360 271.5h1M543 271.5h1M613 271.5h1M720 271.5h1M871 271.5h1M361 272.5h1M542 272.5h1M614 272.5h1M719 272.5h1M872 272.5h1M361 273.5h1M541 273.5h1M615 273.5h1M719 273.5h1M873 273.5h1M362 274.5h1M541 274.5h1M615 274.5h1M718 274.5h1M874 274.5h1M362 275.5h1M540 275.5h1M616 275.5h1M717 275.5h1M874 275.5h1M363 276.5h1M540 276.5h1M617 276.5h1M716 276.5h1M875 276.5h1M364 277.5h1M539 277.5h1M618 277.5h1M716 277.5h1M876 277.5h1M365 278.5h1M539 278.5h1M618 278.5h1M715 278.5h1M877 278.5h1M365 279.5h1M538 279.5h1M619 279.5h1M714 279.5h1M877 279.5h1M366 280.5h1M538 280.5h1M620 280.5h1M714 280.5h1M878 280.5h1M367 281.5h1M537 281.5h1M621 281.5h1M713 281.5h1M879 281.5h1M368 282.5h1M537 282.5h1M622 282.5h1M713 282.5h1M880 282.5h1M368 283.5h1M536 283.5h1M623 283.5h1M712 283.5h1M880 283.5h1M369 284.5h1M536 284.5h1M624 284.5h1M711 284.5h1M881 284.5h1M370 285.5h2M535 285.5h1M624 285.5h1M711 285.5h1M882 285.5h1M372 286.5h2M535 286.5h1M625 286.5h1M710 286.5h1M883 286.5h1M374 287.5h2M534 287.5h1M626 287.5h1M710 287.5h1M884 287.5h1M376 288.5h2M534 288.5h1M627 288.5h1M709 288.5h1M885 288.5h2M378 289.5h1M533 289.5h1M628 289.5h1M708 289.5h1M887 289.5h1M379 290.5h1M533 290.5h1M629 290.5h1M707 290.5h1M888 290.5h1M380 291.5h1M532 291.5h1M630 291.5h1M706 291.5h1M889 291.5h2M381 292.5h1M532 292.5h1M631 292.5h1M706 292.5h1M891 292.5h2M382 293.5h2M531 293.5h1M632 293.5h1M705 293.5h1M893 293.5h2M384 294.5h1M531 294.5h1M633 294.5h1M704 294.5h1M895 294.5h2M385 295.5h1M530 295.5h1M634 295.5h1M703 295.5h1M897 295.5h1M386 296.5h1M530 296.5h1M635 296.5h1M701 296.5h2M897 296.5h1M387 297.5h1M424 297.5h2M529 297.5h1M636 297.5h11M683 297.5h5M696 297.5h5M898 297.5h1M388 298.5h1M423 298.5h1M426 298.5h4M529 298.5h1M647 298.5h4M679 298.5h4M688 298.5h8M899 298.5h1M388 299.5h1M422 299.5h1M430 299.5h3M528 299.5h1M651 299.5h4M675 299.5h4M900 299.5h1M389 300.5h1M420 300.5h2M433 300.5h2M528 300.5h1M655 300.5h4M671 300.5h4M900 300.5h1M390 301.5h1M419 301.5h1M435 301.5h2M527 301.5h1M659 301.5h12M901 301.5h1M391 302.5h1M418 302.5h1M437 302.5h2M527 302.5h1M902 302.5h1M392 303.5h1M417 303.5h1M439 303.5h2M526 303.5h1M902 303.5h1M392 304.5h1M416 304.5h1M441 304.5h1M526 304.5h1M903 304.5h1M393 305.5h1M415 305.5h1M442 305.5h1M525 305.5h1M904 305.5h1M394 306.5h1M413 306.5h2M442 306.5h1M525 306.5h1M905 306.5h1M395 307.5h2M412 307.5h1M443 307.5h1M524 307.5h1M905 307.5h1M397 308.5h2M410 308.5h2M444 308.5h1M524 308.5h1M906 308.5h1M399 309.5h2M408 309.5h2M445 309.5h1M524 309.5h1M907 309.5h1M401 310.5h2M406 310.5h2M445 310.5h1M523 310.5h1M908 310.5h1M403 311.5h3M446 311.5h1M523 311.5h1M908 311.5h1M447 312.5h1M522 312.5h1M909 312.5h1M448 313.5h1M522 313.5h1M910 313.5h1M449 314.5h1M521 314.5h1M911 314.5h1M450 315.5h1M521 315.5h1M912 315.5h1M451 316.5h1M521 316.5h1M913 316.5h1M452 317.5h1M520 317.5h1M913 317.5h1M453 318.5h1M520 318.5h1M914 318.5h1M454 319.5h1M519 319.5h1M915 319.5h1M454 320.5h1M519 320.5h1M916 320.5h1M455 321.5h1M519 321.5h1M917 321.5h1M455 322.5h1M518 322.5h1M918 322.5h1M456 323.5h1M518 323.5h1M919 323.5h1M457 324.5h1M517 324.5h1M919 324.5h1M457 325.5h1M517 325.5h1M920 325.5h1M458 326.5h1M516 326.5h1M921 326.5h1M458 327.5h1M516 327.5h1M922 327.5h1M459 328.5h1M516 328.5h1M922 328.5h1M460 329.5h1M515 329.5h1M923 329.5h1M460 330.5h1M515 330.5h1M461 331.5h1M514 331.5h1M461 332.5h1M514 332.5h1M462 333.5h1M513 333.5h1M462 334.5h1M513 334.5h1M463 335.5h1M512 335.5h1M463 336.5h1M512 336.5h1M464 337.5h1M511 337.5h1M464 338.5h1M511 338.5h1M465 339.5h2M510 339.5h1M467 340.5h1M509 340.5h1M468 341.5h2M508 341.5h1M470 342.5h1M508 342.5h1M471 343.5h1M507 343.5h1M472 344.5h1M506 344.5h1M473 345.5h1M505 345.5h1M474 346.5h1M504 346.5h1M475 347.5h1M504 347.5h1M476 348.5h1M503 348.5h1M477 349.5h2M502 349.5h1M479 350.5h1M501 350.5h1M480 351.5h2M500 351.5h1M482 352.5h2M499 352.5h1M484 353.5h2M498 353.5h1M486 354.5h2M497 354.5h1M488 355.5h4M496 355.5h1M492 356.5h4" fill="none" stroke="#ff0000" stroke-width="1" shape-rendering="crispEdges"/>
<g shape-rendering="crispEdges">
<g clip-path="url(#cm)">
<rect x="4" y="129" width="1162" height="2" fill="#ff0000"/>
<rect x="4" y="188" width="1162" height="2" fill="#ff0000"/>
<rect x="4" y="257" width="1162" height="2" fill="#00ff00"/>
<rect x="4" y="326" width="1162" height="2" fill="#0000ff"/>
<rect x="4" y="407" width="1162" height="2" fill="#0000ff"/>
<rect x="4" y="207" width="1" height="18" fill="#ff0000"/>
<rect x="3" y="211" width="3" height="5" fill="#ff0000"/>
<rect x="4" y="212" width="1" height="3" fill="#ff4500"/>
<rect x="8" y="198" width="1" height="33" fill="#32cd32"/>
<rect x="7" y="211" width="3" height="9" fill="#32cd32"/>
<rect x="12" y="204" width="1" height="22" fill="#32cd32"/>
<rect x="11" y="219" width="3" height="2" fill="#32cd32"/>
<rect x="16" y="209" width="1" height="45" fill="#ff0000"/>
<rect x="15" y="210" width="3" height="11" fill="#ff0000"/>
<rect x="16" y="211" width="1" height="9" fill="#ff4500"/>
<rect x="20" y="183" width="1" height="29" fill="#ff0000"/>
<rect x="19" y="192" width="3" height="19" fill="#ff0000"/>
<rect x="20" y="193" width="1" height="17" fill="#ff4500"/>
<rect x="24" y="182" width="1" height="11" fill="#ff0000"/>
<rect x="23" y="183" width="3" height="9" fill="#ff0000"/>
<rect x="24" y="184" width="1" height="7" fill="#ff4500"/>
<rect x="28" y="179" width="1" height="21" fill="#32cd32"/>
<rect x="27" y="183" width="3" height="13" fill="#32cd32"/>
<rect x="32" y="191" width="1" height="20" fill="#32cd32"/>
<rect x="31" y="196" width="3" height="11" fill="#32cd32"/>
<rect x="36" y="205" width="1" height="38" fill="#32cd32"/>
<rect x="35" y="206" width="3" height="29" fill="#32cd32"/>
<rect x="40" y="229" width="1" height="19" fill="#ff0000"/>
<rect x="39" y="232" width="3" height="3" fill="#ff0000"/>
<rect x="40" y="233" width="1" height="1" fill="#ff4500"/>
<rect x="44" y="204" width="1" height="38" fill="#ff0000"/>
<rect x="43" y="225" width="3" height="8" fill="#ff0000"/>
<rect x="44" y="226" width="1" height="6" fill="#ff4500"/>
<rect x="48" y="205" width="1" height="22" fill="#ff0000"/>
<rect x="47" y="208" width="3" height="18" fill="#ff0000"/>
<rect x="48" y="209" width="1" height="16" fill="#ff4500"/>
<rect x="52" y="184" width="1" height="34" fill="#ff0000"/>
<rect x="51" y="188" width="3" height="22" fill="#ff0000"/>
<rect x="52" y="189" width="1" height="20" fill="#ff4500"/>
<rect x="56" y="137" width="1" height="51" fill="#ff0000"/>
<rect x="55" y="165" width="3" height="23" fill="#ff0000"/>
<rect x="56" y="166" width="1" height="21" fill="#ff4500"/>
<rect x="60" y="117" width="1" height="52" fill="#ff0000"/>
<rect x="59" y="161" width="3" height="5" fill="#ff0000"/>
<rect x="60" y="162" width="1" height="3" fill="#ff4500"/>
<rect x="64" y="115" width="1" height="73" fill="#ff0000"/>
<rect x="63" y="125" width="3" height="37" fill="#ff0000"/>
<rect x="64" y="126" width="1" height="35" fill="#ff4500"/>
<rect x="68" y="95" width="1" height="60" fill="#ff0000"/>
<rect x="67" y="100" width="3" height="25" fill="#ff0000"/>
<rect x="68" y="101" width="1" height="23" fill="#ff4500"/>
<rect x="72" y="90" width="1" height="18" fill="#32cd32"/>
<rect x="71" y="95" width="3" height="10" fill="#32cd32"/>
<rect x="76" y="100" width="1" height="30" fill="#32cd32"/>
<rect x="75" y="100" width="3" height="15" fill="#32cd32"/>
<rect x="80" y="100" width="1" height="20" fill="#ff0000"/>
<rect x="79" y="100" width="3" height="15" fill="#ff0000"/>
<rect x="80" y="101" width="1" height="13" fill="#ff4500"/>
<rect x="84" y="100" width="1" height="17" fill="#32cd32"/>
<rect x="83" y="100" width="3" height="15" fill="#32cd32"/>
<rect x="88" y="100" width="1" height="43" fill="#32cd32"/>
<rect x="87" y="114" width="3" height="25" fill="#32cd32"/>
<rect x="92" y="128" width="1" height="54" fill="#32cd32"/>
<rect x="91" y="139" width="3" height="40" fill="#32cd32"/>
<rect x="96" y="178" width="1" height="10" fill="#32cd32"/>
<rect x="95" y="178" width="3" height="8" fill="#32cd32"/>
<rect x="100" y="158" width="1" height="30" fill="#ff0000"/>
<rect x="99" y="167" width="3" height="13" fill="#ff0000"/>
<rect x="100" y="168" width="1" height="11" fill="#ff4500"/>
<rect x="104" y="160" width="1" height="43" fill="#32cd32"/>
<rect x="103" y="167" width="3" height="26" fill="#32cd32"/>
<rect x="108" y="176" width="1" height="23" fill="#ff0000"/>
<rect x="107" y="181" width="3" height="12" fill="#ff0000"/>
<rect x="108" y="182" width="1" height="10" fill="#ff4500"/>
<rect x="112" y="100" width="1" height="87" fill="#ff0000"/>
<rect x="111" y="133" width="3" height="48" fill="#ff0000"/>
<rect x="112" y="134" width="1" height="46" fill="#ff4500"/>
<rect x="116" y="100" width="1" height="35" fill="#ff0000"/>
<rect x="115" y="100" width="3" height="34" fill="#ff0000"/>
<rect x="116" y="101" width="1" height="32" fill="#ff4500"/>
<rect x="120" y="90" width="1" height="18" fill="#32cd32"/>
<rect x="119" y="95" width="3" height="10" fill="#32cd32"/>
<rect x="124" y="90" width="1" height="18" fill="#32cd32"/>
<rect x="123" y="95" width="3" height="10" fill="#32cd32"/>
<rect x="128" y="90" width="1" height="18" fill="#32cd32"/>
<rect x="127" y="95" width="3" height="10" fill="#32cd32"/>
<rect x="132" y="90" width="1" height="18" fill="#32cd32"/>
<rect x="131" y="95" width="3" height="10" fill="#32cd32"/>
<rect x="136" y="90" width="1" height="18" fill="#32cd32"/>
<rect x="135" y="95" width="3" height="10" fill="#32cd32"/>
<rect x="140" y="90" width="1" height="18" fill="#32cd32"/>
<rect x="139" y="95" width="3" height="10" fill="#32cd32"/>
<rect x="144" y="90" width="1" height="18" fill="#32cd32"/>
<rect x="143" y="95" width="3" height="10" fill="#32cd32"/>
<rect x="148" y="100" width="1" height="19" fill="#32cd32"/>
<rect x="147" y="100" width="3" height="17" fill="#32cd32"/>
<rect x="152" y="100" width="1" height="39" fill="#32cd32"/>
<rect x="151" y="115" width="3" height="7" fill="#32cd32"/>
<rect x="156" y="113" width="1" height="31" fill="#32cd32"/>
<rect x="155" y="120" width="3" height="19" fill="#32cd32"/>
<rect x="160" y="124" width="1" height="16" fill="#ff0000"/>
<rect x="159" y="133" width="3" height="6" fill="#ff0000"/>
<rect x="160" y="134" width="1" height="4" fill="#ff4500"/>
<rect x="164" y="129" width="1" height="57" fill="#32cd32"/>
<rect x="163" y="133" width="3" height="47" fill="#32cd32"/>
<rect x="168" y="174" width="1" height="6" fill="#ff0000"/>
<rect x="167" y="175" width="3" height="5" fill="#ff0000"/>
<rect x="168" y="176" width="1" height="3" fill="#ff4500"/>
<rect x="172" y="166" width="1" height="20" fill="#32cd32"/>
<rect x="171" y="170" width="3" height="15" fill="#32cd32"/>
<rect x="176" y="176" width="1" height="19" fill="#ff0000"/>
<rect x="175" y="184" width="3" height="1" fill="#ff0000"/>
<rect x="180" y="146" width="1" height="45" fill="#ff0000"/>
<rect x="179" y="149" width="3" height="35" fill="#ff0000"/>
<rect x="180" y="150" width="1" height="33" fill="#ff4500"/>
<rect x="184" y="129" width="1" height="27" fill="#ff0000"/>
<rect x="183" y="148" width="3" height="1" fill="#ff0000"/>
<rect x="188" y="138" width="1" height="26" fill="#32cd32"/>
<rect x="187" y="148" width="3" height="6" fill="#32cd32"/>
<rect x="192" y="139" width="1" height="16" fill="#ff0000"/>
<rect x="191" y="139" width="3" height="15" fill="#ff0000"/>
<rect x="192" y="140" width="1" height="13" fill="#ff4500"/>
<rect x="196" y="132" width="1" height="22" fill="#32cd32"/>
<rect x="195" y="141" width="3" height="9" fill="#32cd32"/>
<rect x="200" y="146" width="1" height="40" fill="#32cd32"/>
<rect x="199" y="149" width="3" height="34" fill="#32cd32"/>
<rect x="204" y="167" width="1" height="24" fill="#ff0000"/>
<rect x="203" y="168" width="3" height="15" fill="#ff0000"/>
<rect x="204" y="169" width="1" height="13" fill="#ff4500"/>
<rect x="208" y="160" width="1" height="27" fill="#32cd32"/>
<rect x="207" y="168" width="3" height="4" fill="#32cd32"/>
<rect x="212" y="133" width="1" height="48" fill="#32cd32"/>
<rect x="211" y="171" width="3" height="6" fill="#32cd32"/>
<rect x="216" y="169" width="1" height="19" fill="#32cd32"/>
<rect x="215" y="176" width="3" height="2" fill="#32cd32"/>
<rect x="220" y="172" width="1" height="14" fill="#32cd32"/>
<rect x="219" y="177" width="3" height="4" fill="#32cd32"/>
<rect x="224" y="176" width="1" height="51" fill="#32cd32"/>
<rect x="223" y="180" width="3" height="41" fill="#32cd32"/>
<rect x="228" y="219" width="1" height="22" fill="#32cd32"/>
<rect x="227" y="220" width="3" height="11" fill="#32cd32"/>
<rect x="232" y="198" width="1" height="60" fill="#ff0000"/>
<rect x="231" y="221" width="3" height="11" fill="#ff0000"/>
<rect x="232" y="222" width="1" height="9" fill="#ff4500"/>
<rect x="236" y="219" width="1" height="31" fill="#32cd32"/>
<rect x="235" y="221" width="3" height="24" fill="#32cd32"/>
<rect x="240" y="238" width="1" height="12" fill="#ff0000"/>
<rect x="239" y="241" width="3" height="4" fill="#ff0000"/>
<rect x="240" y="242" width="1" height="2" fill="#ff4500"/>
<rect x="244" y="228" width="1" height="22" fill="#ff0000"/>
<rect x="243" y="229" width="3" height="9" fill="#ff0000"/>
<rect x="244" y="230" width="1" height="7" fill="#ff4500"/>
<rect x="248" y="218" width="1" height="20" fill="#ff0000"/>
<rect x="247" y="226" width="3" height="4" fill="#ff0000"/>
<rect x="248" y="227" width="1" height="2" fill="#ff4500"/>
<rect x="252" y="216" width="1" height="26" fill="#32cd32"/>
<rect x="251" y="226" width="3" height="13" fill="#32cd32"/>
<rect x="256" y="233" width="1" height="76" fill="#32cd32"/>
<rect x="255" y="238" width="3" height="49" fill="#32cd32"/>
<rect x="260" y="248" width="1" height="40" fill="#ff0000"/>
<rect x="259" y="250" width="3" height="37" fill="#ff0000"/>
<rect x="260" y="251" width="1" height="35" fill="#ff4500"/>
<rect x="264" y="247" width="1" height="9" fill="#32cd32"/>
<rect x="263" y="250" width="3" height="2" fill="#32cd32"/>
<rect x="268" y="189" width="1" height="67" fill="#ff0000"/>
<rect x="267" y="192" width="3" height="63" fill="#ff0000"/>
<rect x="268" y="193" width="1" height="61" fill="#ff4500"/>
<rect x="272" y="156" width="1" height="56" fill="#32cd32"/>
<rect x="271" y="192" width="3" height="1" fill="#32cd32"/>
<rect x="276" y="162" width="1" height="43" fill="#ff0000"/>
<rect x="275" y="166" width="3" height="28" fill="#ff0000"/>
<rect x="276" y="167" width="1" height="26" fill="#ff4500"/>
<rect x="280" y="161" width="1" height="43" fill="#32cd32"/>
<rect x="279" y="165" width="3" height="20" fill="#32cd32"/>
<rect x="284" y="174" width="1" height="32" fill="#ff0000"/>
<rect x="283" y="175" width="3" height="10" fill="#ff0000"/>
<rect x="284" y="176" width="1" height="8" fill="#ff4500"/>
<rect x="288" y="174" width="1" height="13" fill="#32cd32"/>
<rect x="287" y="175" width="3" height="10" fill="#32cd32"/>
<rect x="292" y="169" width="1" height="48" fill="#ff0000"/>
<rect x="291" y="183" width="3" height="6" fill="#ff0000"/>
<rect x="292" y="184" width="1" height="4" fill="#ff4500"/>
<rect x="296" y="170" width="1" height="41" fill="#32cd32"/>
<rect x="295" y="184" width="3" height="18" fill="#32cd32"/>
<rect x="300" y="196" width="1" height="37" fill="#32cd32"/>
<rect x="299" y="202" width="3" height="28" fill="#32cd32"/>
<rect x="304" y="218" width="1" height="47" fill="#32cd32"/>
<rect x="303" y="229" width="3" height="34" fill="#32cd32"/>
<rect x="308" y="246" width="1" height="37" fill="#32cd32"/>
<rect x="307" y="256" width="3" height="11" fill="#32cd32"/>
<rect x="312" y="257" width="1" height="13" fill="#ff0000"/>
<rect x="311" y="261" width="3" height="6" fill="#ff0000"/>
<rect x="312" y="262" width="1" height="4" fill="#ff4500"/>
<rect x="316" y="249" width="1" height="19" fill="#ff0000"/>
<rect x="315" y="262" width="3" height="1" fill="#ff0000"/>
<rect x="320" y="260" width="1" height="23" fill="#32cd32"/>
<rect x="319" y="262" width="3" height="3" fill="#32cd32"/>
<rect x="324" y="255" width="1" height="13" fill="#ff0000"/>
<rect x="323" y="261" width="3" height="4" fill="#ff0000"/>
<rect x="324" y="262" width="1" height="2" fill="#ff4500"/>
<rect x="328" y="250" width="1" height="35" fill="#32cd32"/>
<rect x="327" y="261" width="3" height="6" fill="#32cd32"/>
<rect x="332" y="226" width="1" height="67" fill="#ff0000"/>
<rect x="331" y="226" width="3" height="41" fill="#ff0000"/>
<rect x="332" y="227" width="1" height="39" fill="#ff4500"/>
<rect x="336" y="222" width="1" height="18" fill="#32cd32"/>
<rect x="335" y="226" width="3" height="2" fill="#32cd32"/>
<rect x="340" y="221" width="1" height="32" fill="#32cd32"/>
<rect x="339" y="222" width="3" height="30" fill="#32cd32"/>
<rect x="344" y="250" width="1" height="18" fill="#32cd32"/>
<rect x="343" y="251" width="3" height="13" fill="#32cd32"/>
<rect x="348" y="260" width="1" height="17" fill="#32cd32"/>
<rect x="347" y="263" width="3" height="8" fill="#32cd32"/>
<rect x="352" y="263" width="1" height="28" fill="#32cd32"/>
<rect x="351" y="270" width="3" height="17" fill="#32cd32"/>
<rect x="356" y="286" width="1" height="53" fill="#32cd32"/>
<rect x="355" y="287" width="3" height="48" fill="#32cd32"/>
<rect x="360" y="332" width="1" height="22" fill="#32cd32"/>
<rect x="359" y="335" width="3" height="8" fill="#32cd32"/>
<rect x="364" y="331" width="1" height="25" fill="#32cd32"/>
<rect x="363" y="333" width="3" height="18" fill="#32cd32"/>
<rect x="368" y="342" width="1" height="37" fill="#32cd32"/>
<rect x="367" y="349" width="3" height="2" fill="#32cd32"/>
<rect x="372" y="305" width="1" height="49" fill="#ff0000"/>
<rect x="371" y="311" width="3" height="40" fill="#ff0000"/>
<rect x="372" y="312" width="1" height="38" fill="#ff4500"/>
<rect x="376" y="269" width="1" height="48" fill="#ff0000"/>
<rect x="375" y="302" width="3" height="9" fill="#ff0000"/>
<rect x="376" y="303" width="1" height="7" fill="#ff4500"/>
<rect x="380" y="288" width="1" height="26" fill="#ff0000"/>
<rect x="379" y="298" width="3" height="5" fill="#ff0000"/>
<rect x="380" y="299" width="1" height="3" fill="#ff4500"/>
<rect x="384" y="294" width="1" height="16" fill="#32cd32"/>
<rect x="383" y="298" width="3" height="10" fill="#32cd32"/>
<rect x="388" y="282" width="1" height="36" fill="#ff0000"/>
<rect x="387" y="288" width="3" height="24" fill="#ff0000"/>
<rect x="388" y="289" width="1" height="22" fill="#ff4500"/>
<rect x="392" y="281" width="1" height="26" fill="#32cd32"/>
<rect x="391" y="289" width="3" height="9" fill="#32cd32"/>
<rect x="396" y="292" width="1" height="47" fill="#32cd32"/>
<rect x="395" y="298" width="3" height="30" fill="#32cd32"/>
<rect x="400" y="273" width="1" height="106" fill="#ff0000"/>
<rect x="399" y="276" width="3" height="52" fill="#ff0000"/>
<rect x="400" y="277" width="1" height="50" fill="#ff4500"/>
<rect x="404" y="252" width="1" height="38" fill="#ff0000"/>
<rect x="403" y="276" width="3" height="2" fill="#ff0000"/>
<rect x="408" y="273" width="1" height="9" fill="#32cd32"/>
<rect x="407" y="277" width="3" height="4" fill="#32cd32"/>
<rect x="412" y="268" width="1" height="65" fill="#32cd32"/>
<rect x="411" y="273" width="3" height="51" fill="#32cd32"/>
<rect x="416" y="282" width="1" height="53" fill="#ff0000"/>
<rect x="415" y="284" width="3" height="40" fill="#ff0000"/>
<rect x="416" y="285" width="1" height="38" fill="#ff4500"/>
<rect x="420" y="276" width="1" height="18" fill="#32cd32"/>
<rect x="419" y="284" width="3" height="1" fill="#32cd32"/>
<rect x="424" y="277" width="1" height="42" fill="#32cd32"/>
<rect x="423" y="285" width="3" height="12" fill="#32cd32"/>
<rect x="428" y="281" width="1" height="50" fill="#32cd32"/>
<rect x="427" y="295" width="3" height="31" fill="#32cd32"/>
<rect x="432" y="314" width="1" height="13" fill="#ff0000"/>
<rect x="431" y="317" width="3" height="9" fill="#ff0000"/>
<rect x="432" y="318" width="1" height="7" fill="#ff4500"/>
<rect x="436" y="311" width="1" height="41" fill="#32cd32"/>
<rect x="435" y="316" width="3" height="18" fill="#32cd32"/>
<rect x="440" y="317" width="1" height="23" fill="#ff0000"/>
<rect x="439" y="327" width="3" height="7" fill="#ff0000"/>
<rect x="440" y="328" width="1" height="5" fill="#ff4500"/>
<rect x="444" y="311" width="1" height="53" fill="#32cd32"/>
<rect x="443" y="325" width="3" height="39" fill="#32cd32"/>
<rect x="448" y="350" width="1" height="31" fill="#32cd32"/>
<rect x="447" y="362" width="3" height="8" fill="#32cd32"/>
<rect x="452" y="356" width="1" height="38" fill="#ff0000"/>
<rect x="451" y="368" width="3" height="3" fill="#ff0000"/>
<rect x="452" y="369" width="1" height="1" fill="#ff4500"/>
<rect x="456" y="363" width="1" height="10" fill="#32cd32"/>
<rect x="455" y="368" width="3" height="2" fill="#32cd32"/>
<rect x="460" y="363" width="1" height="45" fill="#32cd32"/>
<rect x="459" y="366" width="3" height="29" fill="#32cd32"/>
<rect x="464" y="373" width="1" height="39" fill="#ff0000"/>
<rect x="463" y="375" width="3" height="19" fill="#ff0000"/>
<rect x="464" y="376" width="1" height="17" fill="#ff4500"/>
<rect x="468" y="356" width="1" height="39" fill="#ff0000"/>
<rect x="467" y="362" width="3" height="14" fill="#ff0000"/>
<rect x="468" y="363" width="1" height="12" fill="#ff4500"/>
<rect x="472" y="329" width="1" height="39" fill="#ff0000"/>
<rect x="471" y="334" width="3" height="28" fill="#ff0000"/>
<rect x="472" y="335" width="1" height="26" fill="#ff4500"/>
<rect x="476" y="330" width="1" height="27" fill="#32cd32"/>
<rect x="475" y="334" width="3" height="13" fill="#32cd32"/>
<rect x="480" y="337" width="1" height="11" fill="#ff0000"/>
<rect x="479" y="339" width="3" height="8" fill="#ff0000"/>
<rect x="480" y="340" width="1" height="6" fill="#ff4500"/>
<rect x="484" y="327" width="1" height="27" fill="#ff0000"/>
<rect x="483" y="339" width="3" height="3" fill="#ff0000"/>
<rect x="484" y="340" width="1" height="1" fill="#ff4500"/>
<rect x="488" y="330" width="1" height="36" fill="#32cd32"/>
<rect x="487" y="339" width="3" height="25" fill="#32cd32"/>
<rect x="492" y="334" width="1" height="35" fill="#ff0000"/>
<rect x="491" y="343" width="3" height="21" fill="#ff0000"/>
<rect x="492" y="344" width="1" height="19" fill="#ff4500"/>
<rect x="496" y="304" width="1" height="47" fill="#ff0000"/>
<rect x="495" y="315" width="3" height="28" fill="#ff0000"/>
<rect x="496" y="316" width="1" height="26" fill="#ff4500"/>
<rect x="500" y="284" width="1" height="44" fill="#ff0000"/>
<rect x="499" y="301" width="3" height="14" fill="#ff0000"/>
<rect x="500" y="302" width="1" height="12" fill="#ff4500"/>
<rect x="504" y="292" width="1" height="15" fill="#ff0000"/>
<rect x="503" y="298" width="3" height="4" fill="#ff0000"/>
<rect x="504" y="299" width="1" height="2" fill="#ff4500"/>
<rect x="508" y="298" width="1" height="22" fill="#32cd32"/>
<rect x="507" y="307" width="3" height="3" fill="#32cd32"/>
<rect x="512" y="296" width="1" height="38" fill="#ff0000"/>
<rect x="511" y="303" width="3" height="7" fill="#ff0000"/>
<rect x="512" y="304" width="1" height="5" fill="#ff4500"/>
<rect x="516" y="273" width="1" height="46" fill="#ff0000"/>
<rect x="515" y="274" width="3" height="30" fill="#ff0000"/>
<rect x="516" y="275" width="1" height="28" fill="#ff4500"/>
<rect x="520" y="231" width="1" height="52" fill="#ff0000"/>
<rect x="519" y="239" width="3" height="38" fill="#ff0000"/>
<rect x="520" y="240" width="1" height="36" fill="#ff4500"/>
<rect x="524" y="218" width="1" height="32" fill="#ff0000"/>
<rect x="523" y="221" width="3" height="19" fill="#ff0000"/>
<rect x="524" y="222" width="1" height="17" fill="#ff4500"/>
<rect x="528" y="215" width="1" height="13" fill="#ff0000"/>
<rect x="527" y="216" width="3" height="6" fill="#ff0000"/>
<rect x="528" y="217" width="1" height="4" fill="#ff4500"/>
<rect x="532" y="204" width="1" height="29" fill="#32cd32"/>
<rect x="531" y="219" width="3" height="10" fill="#32cd32"/>
<rect x="536" y="219" width="1" height="25" fill="#32cd32"/>
<rect x="535" y="228" width="3" height="6" fill="#32cd32"/>
<rect x="540" y="222" width="1" height="33" fill="#32cd32"/>
<rect x="539" y="233" width="3" height="15" fill="#32cd32"/>
<rect x="544" y="216" width="1" height="48" fill="#32cd32"/>
<rect x="543" y="247" width="3" height="13" fill="#32cd32"/>
<rect x="548" y="243" width="1" height="30" fill="#32cd32"/>
<rect x="547" y="259" width="3" height="14" fill="#32cd32"/>
<rect x="552" y="271" width="1" height="7" fill="#32cd32"/>
<rect x="551" y="271" width="3" height="2" fill="#32cd32"/>
<rect x="556" y="254" width="1" height="22" fill="#ff0000"/>
<rect x="555" y="263" width="3" height="10" fill="#ff0000"/>
<rect x="556" y="264" width="1" height="8" fill="#ff4500"/>
<rect x="560" y="246" width="1" height="32" fill="#ff0000"/>
<rect x="559" y="247" width="3" height="17" fill="#ff0000"/>
<rect x="560" y="248" width="1" height="15" fill="#ff4500"/>
<rect x="564" y="240" width="1" height="18" fill="#ff0000"/>
<rect x="563" y="243" width="3" height="5" fill="#ff0000"/>
<rect x="564" y="244" width="1" height="3" fill="#ff4500"/>
<rect x="568" y="207" width="1" height="66" fill="#ff0000"/>
<rect x="567" y="220" width="3" height="24" fill="#ff0000"/>
<rect x="568" y="221" width="1" height="22" fill="#ff4500"/>
<rect x="572" y="209" width="1" height="31" fill="#ff0000"/>
<rect x="571" y="211" width="3" height="10" fill="#ff0000"/>
<rect x="572" y="212" width="1" height="8" fill="#ff4500"/>
<rect x="576" y="210" width="1" height="9" fill="#32cd32"/>
<rect x="575" y="211" width="3" height="5" fill="#32cd32"/>
<rect x="580" y="207" width="1" height="20" fill="#32cd32"/>
<rect x="579" y="214" width="3" height="8" fill="#32cd32"/>
<rect x="584" y="220" width="1" height="63" fill="#32cd32"/>
<rect x="583" y="221" width="3" height="58" fill="#32cd32"/>
<rect x="588" y="264" width="1" height="20" fill="#ff0000"/>
<rect x="587" y="277" width="3" height="2" fill="#ff0000"/>
<rect x="592" y="265" width="1" height="38" fill="#32cd32"/>
<rect x="591" y="277" width="3" height="19" fill="#32cd32"/>
<rect x="596" y="289" width="1" height="26" fill="#32cd32"/>
<rect x="595" y="296" width="3" height="18" fill="#32cd32"/>
<rect x="600" y="311" width="1" height="6" fill="#32cd32"/>
<rect x="599" y="314" width="3" height="1" fill="#32cd32"/>
<rect x="604" y="298" width="1" height="19" fill="#ff0000"/>
<rect x="603" y="303" width="3" height="12" fill="#ff0000"/>
<rect x="604" y="304" width="1" height="10" fill="#ff4500"/>
<rect x="608" y="299" width="1" height="28" fill="#32cd32"/>
<rect x="607" y="304" width="3" height="16" fill="#32cd32"/>
<rect x="612" y="314" width="1" height="15" fill="#32cd32"/>
<rect x="611" y="319" width="3" height="2" fill="#32cd32"/>
<rect x="616" y="317" width="1" height="19" fill="#32cd32"/>
<rect x="615" y="320" width="3" height="7" fill="#32cd32"/>
<rect x="620" y="290" width="1" height="39" fill="#ff0000"/>
<rect x="619" y="293" width="3" height="35" fill="#ff0000"/>
<rect x="620" y="294" width="1" height="33" fill="#ff4500"/>
<rect x="624" y="287" width="1" height="12" fill="#ff0000"/>
<rect x="623" y="288" width="3" height="6" fill="#ff0000"/>
<rect x="624" y="289" width="1" height="4" fill="#ff4500"/>
<rect x="628" y="271" width="1" height="22" fill="#ff0000"/>
<rect x="627" y="271" width="3" height="22" fill="#ff0000"/>
<rect x="628" y="272" width="1" height="20" fill="#ff4500"/>
<rect x="632" y="266" width="1" height="19" fill="#32cd32"/>
<rect x="631" y="272" width="3" height="1" fill="#32cd32"/>
<rect x="636" y="269" width="1" height="22" fill="#32cd32"/>
<rect x="635" y="271" width="3" height="12" fill="#32cd32"/>
<rect x="640" y="261" width="1" height="25" fill="#ff0000"/>
<rect x="639" y="275" width="3" height="8" fill="#ff0000"/>
<rect x="640" y="276" width="1" height="6" fill="#ff4500"/>
<rect x="644" y="268" width="1" height="39" fill="#32cd32"/>
<rect x="643" y="275" width="3" height="30" fill="#32cd32"/>
<rect x="648" y="303" width="1" height="10" fill="#32cd32"/>
<rect x="647" y="304" width="3" height="6" fill="#32cd32"/>
<rect x="652" y="306" width="1" height="20" fill="#32cd32"/>
<rect x="651" y="312" width="3" height="8" fill="#32cd32"/>
<rect x="656" y="310" width="1" height="15" fill="#32cd32"/>
<rect x="655" y="319" width="3" height="2" fill="#32cd32"/>
<rect x="660" y="311" width="1" height="23" fill="#32cd32"/>
<rect x="659" y="319" width="3" height="10" fill="#32cd32"/>
<rect x="664" y="315" width="1" height="18" fill="#ff0000"/>
<rect x="663" y="323" width="3" height="6" fill="#ff0000"/>
<rect x="664" y="324" width="1" height="4" fill="#ff4500"/>
<rect x="668" y="307" width="1" height="34" fill="#ff0000"/>
<rect x="667" y="308" width="3" height="16" fill="#ff0000"/>
<rect x="668" y="309" width="1" height="14" fill="#ff4500"/>
<rect x="672" y="307" width="1" height="12" fill="#32cd32"/>
<rect x="671" y="308" width="3" height="9" fill="#32cd32"/>
<rect x="676" y="275" width="1" height="51" fill="#ff0000"/>
<rect x="675" y="279" width="3" height="35" fill="#ff0000"/>
<rect x="676" y="280" width="1" height="33" fill="#ff4500"/>
<rect x="680" y="266" width="1" height="17" fill="#ff0000"/>
<rect x="679" y="271" width="3" height="10" fill="#ff0000"/>
<rect x="680" y="272" width="1" height="8" fill="#ff4500"/>
<rect x="684" y="248" width="1" height="35" fill="#ff0000"/>
<rect x="683" y="267" width="3" height="5" fill="#ff0000"/>
<rect x="684" y="268" width="1" height="3" fill="#ff4500"/>
<rect x="688" y="256" width="1" height="26" fill="#ff0000"/>
<rect x="687" y="264" width="3" height="4" fill="#ff0000"/>
<rect x="688" y="265" width="1" height="2" fill="#ff4500"/>
<rect x="692" y="252" width="1" height="49" fill="#32cd32"/>
<rect x="691" y="264" width="3" height="31" fill="#32cd32"/>
<rect x="696" y="289" width="1" height="7" fill="#ff0000"/>
<rect x="695" y="291" width="3" height="3" fill="#ff0000"/>
<rect x="696" y="292" width="1" height="1" fill="#ff4500"/>
<rect x="700" y="274" width="1" height="18" fill="#ff0000"/>
<rect x="699" y="280" width="3" height="10" fill="#ff0000"/>
<rect x="700" y="281" width="1" height="8" fill="#ff4500"/>
<rect x="704" y="265" width="1" height="25" fill="#ff0000"/>
<rect x="703" y="266" width="3" height="14" fill="#ff0000"/>
<rect x="704" y="267" width="1" height="12" fill="#ff4500"/>
<rect x="708" y="260" width="1" height="19" fill="#32cd32"/>
<rect x="707" y="266" width="3" height="4" fill="#32cd32"/>
<rect x="712" y="221" width="1" height="49" fill="#ff0000"/>
<rect x="711" y="248" width="3" height="22" fill="#ff0000"/>
<rect x="712" y="249" width="1" height="20" fill="#ff4500"/>
<rect x="716" y="190" width="1" height="68" fill="#ff0000"/>
<rect x="715" y="234" width="3" height="14" fill="#ff0000"/>
<rect x="716" y="235" width="1" height="12" fill="#ff4500"/>
<rect x="720" y="232" width="1" height="18" fill="#32cd32"/>
<rect x="719" y="234" width="3" height="12" fill="#32cd32"/>
<rect x="724" y="219" width="1" height="25" fill="#ff0000"/>
<rect x="723" y="233" width="3" height="7" fill="#ff0000"/>
<rect x="724" y="234" width="1" height="5" fill="#ff4500"/>
<rect x="728" y="207" width="1" height="32" fill="#ff0000"/>
<rect x="727" y="220" width="3" height="14" fill="#ff0000"/>
<rect x="728" y="221" width="1" height="12" fill="#ff4500"/>
<rect x="732" y="219" width="1" height="32" fill="#32cd32"/>
<rect x="731" y="220" width="3" height="21" fill="#32cd32"/>
<rect x="736" y="228" width="1" height="26" fill="#32cd32"/>
<rect x="735" y="241" width="3" height="8" fill="#32cd32"/>
<rect x="740" y="238" width="1" height="33" fill="#32cd32"/>
<rect x="739" y="248" width="3" height="21" fill="#32cd32"/>
<rect x="744" y="267" width="1" height="16" fill="#32cd32"/>
<rect x="743" y="268" width="3" height="14" fill="#32cd32"/>
<rect x="748" y="261" width="1" height="19" fill="#ff0000"/>
<rect x="747" y="267" width="3" height="8" fill="#ff0000"/>
<rect x="748" y="268" width="1" height="6" fill="#ff4500"/>
<rect x="752" y="262" width="1" height="19" fill="#ff0000"/>
<rect x="751" y="264" width="3" height="4" fill="#ff0000"/>
<rect x="752" y="265" width="1" height="2" fill="#ff4500"/>
<rect x="756" y="259" width="1" height="14" fill="#32cd32"/>
<rect x="755" y="266" width="3" height="4" fill="#32cd32"/>
<rect x="760" y="258" width="1" height="13" fill="#ff0000"/>
<rect x="759" y="260" width="3" height="6" fill="#ff0000"/>
<rect x="760" y="261" width="1" height="4" fill="#ff4500"/>
<rect x="764" y="204" width="1" height="60" fill="#ff0000"/>
<rect x="763" y="215" width="3" height="45" fill="#ff0000"/>
<rect x="764" y="216" width="1" height="43" fill="#ff4500"/>
<rect x="768" y="201" width="1" height="18" fill="#ff0000"/>
<rect x="767" y="201" width="3" height="15" fill="#ff0000"/>
<rect x="768" y="202" width="1" height="13" fill="#ff4500"/>
<rect x="772" y="182" width="1" height="25" fill="#ff0000"/>
<rect x="771" y="189" width="3" height="17" fill="#ff0000"/>
<rect x="772" y="190" width="1" height="15" fill="#ff4500"/>
<rect x="776" y="163" width="1" height="30" fill="#ff0000"/>
<rect x="775" y="173" width="3" height="15" fill="#ff0000"/>
<rect x="776" y="174" width="1" height="13" fill="#ff4500"/>
<rect x="780" y="168" width="1" height="13" fill="#32cd32"/>
<rect x="779" y="174" width="3" height="5" fill="#32cd32"/>
<rect x="784" y="173" width="1" height="38" fill="#32cd32"/>
<rect x="783" y="180" width="3" height="10" fill="#32cd32"/>
<rect x="788" y="188" width="1" height="54" fill="#32cd32"/>
<rect x="787" y="189" width="3" height="27" fill="#32cd32"/>
<rect x="792" y="204" width="1" height="13" fill="#ff0000"/>
<rect x="791" y="213" width="3" height="3" fill="#ff0000"/>
<rect x="792" y="214" width="1" height="1" fill="#ff4500"/>
<rect x="796" y="186" width="1" height="34" fill="#ff0000"/>
<rect x="795" y="198" width="3" height="21" fill="#ff0000"/>
<rect x="796" y="199" width="1" height="19" fill="#ff4500"/>
<rect x="800" y="191" width="1" height="45" fill="#32cd32"/>
<rect x="799" y="198" width="3" height="33" fill="#32cd32"/>
<rect x="804" y="212" width="1" height="39" fill="#32cd32"/>
<rect x="803" y="230" width="3" height="16" fill="#32cd32"/>
<rect x="808" y="241" width="1" height="23" fill="#32cd32"/>
<rect x="807" y="245" width="3" height="13" fill="#32cd32"/>
<rect x="812" y="246" width="1" height="24" fill="#ff0000"/>
<rect x="811" y="250" width="3" height="8" fill="#ff0000"/>
<rect x="812" y="251" width="1" height="6" fill="#ff4500"/>
<rect x="816" y="239" width="1" height="13" fill="#ff0000"/>
<rect x="815" y="244" width="3" height="7" fill="#ff0000"/>
<rect x="816" y="245" width="1" height="5" fill="#ff4500"/>
<rect x="820" y="232" width="1" height="18" fill="#ff0000"/>
<rect x="819" y="237" width="3" height="11" fill="#ff0000"/>
<rect x="820" y="238" width="1" height="9" fill="#ff4500"/>
<rect x="824" y="227" width="1" height="30" fill="#32cd32"/>
<rect x="823" y="236" width="3" height="7" fill="#32cd32"/>
<rect x="828" y="215" width="1" height="31" fill="#ff0000"/>
<rect x="827" y="223" width="3" height="21" fill="#ff0000"/>
<rect x="828" y="224" width="1" height="19" fill="#ff4500"/>
<rect x="832" y="209" width="1" height="28" fill="#32cd32"/>
<rect x="831" y="223" width="3" height="7" fill="#32cd32"/>
<rect x="836" y="229" width="1" height="40" fill="#32cd32"/>
<rect x="835" y="230" width="3" height="34" fill="#32cd32"/>
<rect x="840" y="261" width="1" height="7" fill="#32cd32"/>
<rect x="839" y="262" width="3" height="1" fill="#32cd32"/>
<rect x="844" y="258" width="1" height="18" fill="#32cd32"/>
<rect x="843" y="265" width="3" height="6" fill="#32cd32"/>
<rect x="848" y="246" width="1" height="27" fill="#ff0000"/>
<rect x="847" y="260" width="3" height="11" fill="#ff0000"/>
<rect x="848" y="261" width="1" height="9" fill="#ff4500"/>
<rect x="852" y="259" width="1" height="21" fill="#32cd32"/>
<rect x="851" y="260" width="3" height="16" fill="#32cd32"/>
<rect x="856" y="253" width="1" height="47" fill="#32cd32"/>
<rect x="855" y="276" width="3" height="21" fill="#32cd32"/>
<rect x="860" y="285" width="1" height="28" fill="#32cd32"/>
<rect x="859" y="296" width="3" height="15" fill="#32cd32"/>
<rect x="864" y="305" width="1" height="10" fill="#ff0000"/>
<rect x="863" y="307" width="3" height="4" fill="#ff0000"/>
<rect x="864" y="308" width="1" height="2" fill="#ff4500"/>
<rect x="868" y="302" width="1" height="19" fill="#32cd32"/>
<rect x="867" y="307" width="3" height="13" fill="#32cd32"/>
<rect x="872" y="310" width="1" height="20" fill="#32cd32"/>
<rect x="871" y="319" width="3" height="9" fill="#32cd32"/>
<rect x="876" y="308" width="1" height="26" fill="#32cd32"/>
<rect x="875" y="327" width="3" height="1" fill="#32cd32"/>
<rect x="880" y="302" width="1" height="28" fill="#ff0000"/>
<rect x="879" y="303" width="3" height="25" fill="#ff0000"/>
<rect x="880" y="304" width="1" height="23" fill="#ff4500"/>
<rect x="884" y="269" width="1" height="48" fill="#ff0000"/>
<rect x="883" y="271" width="3" height="33" fill="#ff0000"/>
<rect x="884" y="272" width="1" height="31" fill="#ff4500"/>
<rect x="888" y="265" width="1" height="12" fill="#ff0000"/>
<rect x="887" y="266" width="3" height="7" fill="#ff0000"/>
<rect x="888" y="267" width="1" height="5" fill="#ff4500"/>
<rect x="892" y="265" width="1" height="34" fill="#32cd32"/>
<rect x="891" y="270" width="3" height="20" fill="#32cd32"/>
<rect x="896" y="282" width="1" height="24" fill="#32cd32"/>
<rect x="895" y="289" width="3" height="13" fill="#32cd32"/>
<rect x="900" y="294" width="1" height="37" fill="#32cd32"/>
<rect x="899" y="301" width="3" height="26" fill="#32cd32"/>
<rect x="904" y="318" width="1" height="35" fill="#32cd32"/>
<rect x="903" y="326" width="3" height="18" fill="#32cd32"/>
<rect x="908" y="338" width="1" height="26" fill="#32cd32"/>
<rect x="907" y="343" width="3" height="11" fill="#32cd32"/>
<rect x="912" y="351" width="1" height="17" fill="#32cd32"/>
<rect x="911" y="353" width="3" height="12" fill="#32cd32"/>
<rect x="916" y="357" width="1" height="27" fill="#32cd32"/>
<rect x="915" y="366" width="3" height="14" fill="#32cd32"/>
<rect x="920" y="379" width="1" height="24" fill="#32cd32"/>
<rect x="919" y="380" width="3" height="6" fill="#32cd32"/>
<rect x="924" y="379" width="1" height="10" fill="#ff0000"/>
<rect x="923" y="384" width="3" height="1" fill="#ff0000"/>
</g>
</g>
<g shape-rendering="crispEdges">
<rect x="4" y="25" width="225" height="85" fill="#ffffff"/>
<rect x="7" y="44" width="52" height="25" fill="#0000a8"/>
<rect x="8" y="45" width="50" height="24" fill="url(#gtab)"/>
<rect x="174" y="44" width="52" height="25" fill="#0000a8"/>
<rect x="175" y="45" width="50" height="24" fill="url(#gtab)"/>
<rect x="7" y="68" width="109" height="40" fill="url(#gpan)"/>
<rect x="118" y="68" width="108" height="40" fill="url(#gpan)"/>
<rect x="8" y="68" width="50" height="1" fill="#3636de"/>
<rect x="175" y="68" width="50" height="1" fill="#3636de"/>
<rect x="11" y="67" width="44" height="1" fill="#00008c"/>
<rect x="11" y="68" width="44" height="1" fill="#7878ff"/>
<rect x="178" y="67" width="44" height="1" fill="#00008c"/>
<rect x="178" y="68" width="44" height="1" fill="#7878ff"/>
<rect x="61" y="44" width="111" height="22" fill="#a4a4ac"/>
<rect x="62" y="45" width="109" height="20" fill="#ffffff"/>
<rect x="63" y="46" width="18" height="18" fill="url(#gbtn)"/>
<rect x="82" y="45" width="1" height="20" fill="#a4a4ac"/>
<rect x="152" y="46" width="18" height="18" fill="url(#gbtn)"/>
<rect x="150" y="45" width="1" height="20" fill="#a4a4ac"/>
</g>
<path d="M69.5 53 L74.5 53 L72 56 Z" fill="#4a64c4"/>
<path d="M158.5 56 L163.5 56 L161 53 Z" fill="#4a64c4"/>
<text x="19.6" y="60" font-size="12.5" fill="#fff" textLength="25.4" lengthAdjust="spacingAndGlyphs">SELL</text>
<text x="188" y="60" font-size="12.5" fill="#fff" textLength="22.3" lengthAdjust="spacingAndGlyphs">BUY</text>
<text x="123.4" y="59" font-size="12" fill="#000" textLength="23.3" lengthAdjust="spacingAndGlyphs" stroke="#000" stroke-width="0.15">5.00</text>
<text x="27.3" y="99" font-size="12" fill="#fff" textLength="23.3" lengthAdjust="spacingAndGlyphs" font-weight="bold">1.09</text>
<text x="54.6" y="99" font-size="34.3" fill="#fff" textLength="35.2" lengthAdjust="spacingAndGlyphs">17</text>
<text x="94.3" y="83" font-size="11.5" fill="#fff" textLength="6.8" lengthAdjust="spacingAndGlyphs" font-weight="bold">0</text>
<text x="137.5" y="99" font-size="12" fill="#fff" textLength="23.3" lengthAdjust="spacingAndGlyphs" font-weight="bold">1.09</text>
<text x="165.4" y="99" font-size="34.3" fill="#fff" textLength="35.2" lengthAdjust="spacingAndGlyphs">18</text>
<text x="205" y="83" font-size="11.5" fill="#fff" textLength="6.8" lengthAdjust="spacingAndGlyphs" font-weight="bold">7</text>
<path d="M7 35.5 L14 35.5 L10.5 31 Z" fill="#000"/>
<text x="19.4" y="36" font-size="9.8" fill="#000" textLength="63" lengthAdjust="spacingAndGlyphs" stroke="#000" stroke-width="0.2">EURUSD,Daily</text>
<text x="89.5" y="36" font-size="9.8" fill="#000" textLength="32.4" lengthAdjust="spacingAndGlyphs" stroke="#000" stroke-width="0.2">1.09154</text>
<text x="125.4" y="36" font-size="9.8" fill="#000" textLength="32.4" lengthAdjust="spacingAndGlyphs" stroke="#000" stroke-width="0.2">1.09236</text>
<text x="161.3" y="36" font-size="9.8" fill="#000" textLength="32.4" lengthAdjust="spacingAndGlyphs" stroke="#000" stroke-width="0.2">1.09111</text>
<text x="197.2" y="36" font-size="9.8" fill="#000" textLength="32.4" lengthAdjust="spacingAndGlyphs" stroke="#000" stroke-width="0.2">1.09170</text>
<g shape-rendering="crispEdges">
<rect x="3" y="24" width="1164" height="1" fill="#000"/>
<rect x="3" y="24" width="1" height="398" fill="#000"/>
<rect x="3" y="421" width="1164" height="1" fill="#000"/>
<rect x="1166" y="24" width="1" height="398" fill="#000"/>
<rect x="3" y="127" width="6" height="6" fill="#ff0000"/>
<rect x="5" y="129" width="2" height="2" fill="#ffffff"/>
<rect x="1160" y="127" width="6" height="6" fill="#ff0000"/>
<rect x="1162" y="129" width="2" height="2" fill="#ffffff"/>
<rect x="3" y="186" width="6" height="6" fill="#ff0000"/>
<rect x="5" y="188" width="2" height="2" fill="#ffffff"/>
<rect x="1160" y="186" width="6" height="6" fill="#ff0000"/>
<rect x="1162" y="188" width="2" height="2" fill="#ffffff"/>
<rect x="3" y="324" width="6" height="6" fill="#0000ff"/>
<rect x="5" y="326" width="2" height="2" fill="#ffffff"/>
<rect x="1160" y="324" width="6" height="6" fill="#0000ff"/>
<rect x="1162" y="326" width="2" height="2" fill="#ffffff"/>
<rect x="3" y="405" width="6" height="6" fill="#0000ff"/>
<rect x="5" y="407" width="2" height="2" fill="#ffffff"/>
<rect x="1160" y="405" width="6" height="6" fill="#0000ff"/>
<rect x="1162" y="407" width="2" height="2" fill="#ffffff"/>
<rect x="3" y="423" width="1164" height="1" fill="#000"/>
<rect x="3" y="423" width="1" height="69" fill="#000"/>
<rect x="3" y="491" width="1164" height="1" fill="#000"/>
<rect x="1166" y="423" width="1" height="69" fill="#000"/>
<rect x="3" y="493" width="1164" height="1" fill="#000"/>
<rect x="3" y="493" width="1" height="85" fill="#000"/>
<rect x="3" y="577" width="1164" height="1" fill="#000"/>
<rect x="1166" y="493" width="1" height="85" fill="#000"/>
<rect x="1167" y="55" width="2" height="1" fill="#000"/>
<rect x="1167" y="88" width="2" height="1" fill="#000"/>
<rect x="1167" y="121" width="2" height="1" fill="#000"/>
<rect x="1167" y="154" width="2" height="1" fill="#000"/>
<rect x="1167" y="187" width="2" height="1" fill="#000"/>
<rect x="1167" y="220" width="2" height="1" fill="#000"/>
<rect x="1167" y="253" width="2" height="1" fill="#000"/>
<rect x="1167" y="286" width="2" height="1" fill="#000"/>
<rect x="1167" y="319" width="2" height="1" fill="#000"/>
<rect x="1167" y="352" width="2" height="1" fill="#000"/>
<rect x="1167" y="385" width="2" height="1" fill="#000"/>
<rect x="1167" y="418" width="2" height="1" fill="#000"/>
</g>
<text x="1172.2" y="59" font-size="9.8" fill="#000" textLength="32.4" lengthAdjust="spacingAndGlyphs" stroke="#000" stroke-width="0.2">1.13950</text>
<text x="1172.2" y="92" font-size="9.8" fill="#000" textLength="32.4" lengthAdjust="spacingAndGlyphs" stroke="#000" stroke-width="0.2">1.13470</text>
<text x="1172.2" y="125" font-size="9.8" fill="#000" textLength="32.4" lengthAdjust="spacingAndGlyphs" stroke="#000" stroke-width="0.2">1.12990</text>
<text x="1172.2" y="158" font-size="9.8" fill="#000" textLength="32.4" lengthAdjust="spacingAndGlyphs" stroke="#000" stroke-width="0.2">1.12510</text>
<text x="1172.2" y="191" font-size="9.8" fill="#000" textLength="32.4" lengthAdjust="spacingAndGlyphs" stroke="#000" stroke-width="0.2">1.12030</text>
<text x="1172.2" y="224" font-size="9.8" fill="#000" textLength="32.4" lengthAdjust="spacingAndGlyphs" stroke="#000" stroke-width="0.2">1.11550</text>
<text x="1172.2" y="257" font-size="9.8" fill="#000" textLength="32.4" lengthAdjust="spacingAndGlyphs" stroke="#000" stroke-width="0.2">1.11070</text>
<text x="1172.2" y="290" font-size="9.8" fill="#000" textLength="32.4" lengthAdjust="spacingAndGlyphs" stroke="#000" stroke-width="0.2">1.10590</text>
<text x="1172.2" y="323" font-size="9.8" fill="#000" textLength="32.4" lengthAdjust="spacingAndGlyphs" stroke="#000" stroke-width="0.2">1.10110</text>
<text x="1172.2" y="356" font-size="9.8" fill="#000" textLength="32.4" lengthAdjust="spacingAndGlyphs" stroke="#000" stroke-width="0.2">1.09630</text>
<text x="1172.2" y="389" font-size="9.8" fill="#000" textLength="32.4" lengthAdjust="spacingAndGlyphs" stroke="#000" stroke-width="0.2">1.09150</text>
<text x="1172.2" y="422" font-size="9.8" fill="#000" textLength="32.4" lengthAdjust="spacingAndGlyphs" stroke="#000" stroke-width="0.2">1.08670</text>
<g shape-rendering="crispEdges">
<rect x="1168" y="124" width="41" height="11" fill="#ff0000"/>
<rect x="1168" y="183" width="41" height="11" fill="#ff0000"/>
<rect x="1168" y="252" width="41" height="11" fill="#00ff00"/>
<rect x="1168" y="321" width="41" height="11" fill="#0000ff"/>
<rect x="1168" y="402" width="41" height="11" fill="#0000ff"/>
<rect x="1168" y="379" width="41" height="11" fill="#000"/>
</g>
<text x="1172.2" y="133" font-size="9.8" fill="#fff" textLength="32.4" lengthAdjust="spacingAndGlyphs" stroke="#fff" stroke-width="0.2">1.12858</text>
<text x="1172.2" y="192" font-size="9.8" fill="#fff" textLength="32.4" lengthAdjust="spacingAndGlyphs" stroke="#fff" stroke-width="0.2">1.12003</text>
<text x="1172.2" y="261" font-size="9.8" fill="#fff" textLength="32.4" lengthAdjust="spacingAndGlyphs" stroke="#fff" stroke-width="0.2">1.11002</text>
<text x="1172.2" y="330" font-size="9.8" fill="#fff" textLength="32.4" lengthAdjust="spacingAndGlyphs" stroke="#fff" stroke-width="0.2">1.10003</text>
<text x="1172.2" y="411" font-size="9.8" fill="#fff" textLength="32.4" lengthAdjust="spacingAndGlyphs" stroke="#fff" stroke-width="0.2">1.08828</text>
<text x="1172.2" y="388" font-size="9.8" fill="#fff" textLength="32.4" lengthAdjust="spacingAndGlyphs" stroke="#fff" stroke-width="0.2">1.09170</text>
<g shape-rendering="crispEdges" clip-path="url(#cmacd)">
<rect x="3" y="455" width="3" height="12" fill="#c0c0c0"/>
<rect x="7" y="455" width="3" height="13" fill="#c0c0c0"/>
<rect x="11" y="455" width="3" height="13" fill="#c0c0c0"/>
<rect x="15" y="455" width="3" height="13" fill="#c0c0c0"/>
<rect x="19" y="455" width="3" height="11" fill="#c0c0c0"/>
<rect x="23" y="455" width="3" height="11" fill="#c0c0c0"/>
<rect x="27" y="455" width="3" height="10" fill="#c0c0c0"/>
<rect x="31" y="455" width="3" height="11" fill="#c0c0c0"/>
<rect x="35" y="455" width="3" height="11" fill="#c0c0c0"/>
<rect x="39" y="455" width="3" height="12" fill="#c0c0c0"/>
<rect x="43" y="455" width="3" height="13" fill="#c0c0c0"/>
<rect x="47" y="455" width="3" height="11" fill="#c0c0c0"/>
<rect x="51" y="455" width="3" height="9" fill="#c0c0c0"/>
<rect x="55" y="455" width="3" height="5" fill="#c0c0c0"/>
<rect x="59" y="455" width="3" height="2" fill="#c0c0c0"/>
<rect x="63" y="450" width="3" height="5" fill="#c0c0c0"/>
<rect x="67" y="444" width="3" height="11" fill="#c0c0c0"/>
<rect x="71" y="439" width="3" height="16" fill="#c0c0c0"/>
<rect x="75" y="437" width="3" height="18" fill="#c0c0c0"/>
<rect x="79" y="435" width="3" height="20" fill="#c0c0c0"/>
<rect x="83" y="435" width="3" height="20" fill="#c0c0c0"/>
<rect x="87" y="437" width="3" height="18" fill="#c0c0c0"/>
<rect x="91" y="441" width="3" height="14" fill="#c0c0c0"/>
<rect x="95" y="444" width="3" height="11" fill="#c0c0c0"/>
<rect x="99" y="446" width="3" height="9" fill="#c0c0c0"/>
<rect x="103" y="449" width="3" height="6" fill="#c0c0c0"/>
<rect x="107" y="451" width="3" height="4" fill="#c0c0c0"/>
<rect x="111" y="449" width="3" height="6" fill="#c0c0c0"/>
<rect x="115" y="444" width="3" height="11" fill="#c0c0c0"/>
<rect x="119" y="440" width="3" height="15" fill="#c0c0c0"/>
<rect x="123" y="436" width="3" height="19" fill="#c0c0c0"/>
<rect x="127" y="433" width="3" height="22" fill="#c0c0c0"/>
<rect x="131" y="430" width="3" height="25" fill="#c0c0c0"/>
<rect x="135" y="428" width="3" height="27" fill="#c0c0c0"/>
<rect x="139" y="428" width="3" height="27" fill="#c0c0c0"/>
<rect x="143" y="427" width="3" height="28" fill="#c0c0c0"/>
<rect x="147" y="429" width="3" height="26" fill="#c0c0c0"/>
<rect x="151" y="434" width="3" height="21" fill="#c0c0c0"/>
<rect x="155" y="440" width="3" height="15" fill="#c0c0c0"/>
<rect x="159" y="443" width="3" height="12" fill="#c0c0c0"/>
<rect x="163" y="449" width="3" height="6" fill="#c0c0c0"/>
<rect x="167" y="454" width="3" height="1" fill="#c0c0c0"/>
<rect x="171" y="455" width="3" height="5" fill="#c0c0c0"/>
<rect x="175" y="455" width="3" height="8" fill="#c0c0c0"/>
<rect x="179" y="455" width="3" height="8" fill="#c0c0c0"/>
<rect x="183" y="455" width="3" height="8" fill="#c0c0c0"/>
<rect x="187" y="455" width="3" height="8" fill="#c0c0c0"/>
<rect x="191" y="455" width="3" height="7" fill="#c0c0c0"/>
<rect x="195" y="455" width="3" height="6" fill="#c0c0c0"/>
<rect x="199" y="455" width="3" height="10" fill="#c0c0c0"/>
<rect x="203" y="455" width="3" height="10" fill="#c0c0c0"/>
<rect x="207" y="455" width="3" height="11" fill="#c0c0c0"/>
<rect x="211" y="455" width="3" height="11" fill="#c0c0c0"/>
<rect x="215" y="455" width="3" height="11" fill="#c0c0c0"/>
<rect x="219" y="455" width="3" height="13" fill="#c0c0c0"/>
<rect x="223" y="455" width="3" height="16" fill="#c0c0c0"/>
<rect x="227" y="455" width="3" height="20" fill="#c0c0c0"/>
<rect x="231" y="455" width="3" height="21" fill="#c0c0c0"/>
<rect x="235" y="455" width="3" height="24" fill="#c0c0c0"/>
<rect x="239" y="455" width="3" height="26" fill="#c0c0c0"/>
<rect x="243" y="455" width="3" height="26" fill="#c0c0c0"/>
<rect x="247" y="455" width="3" height="26" fill="#c0c0c0"/>
<rect x="251" y="455" width="3" height="26" fill="#c0c0c0"/>
<rect x="255" y="455" width="3" height="30" fill="#c0c0c0"/>
<rect x="259" y="455" width="3" height="30" fill="#c0c0c0"/>
<rect x="263" y="455" width="3" height="29" fill="#c0c0c0"/>
<rect x="267" y="455" width="3" height="24" fill="#c0c0c0"/>
<rect x="271" y="455" width="3" height="20" fill="#c0c0c0"/>
<rect x="275" y="455" width="3" height="14" fill="#c0c0c0"/>
<rect x="279" y="455" width="3" height="11" fill="#c0c0c0"/>
<rect x="283" y="455" width="3" height="8" fill="#c0c0c0"/>
<rect x="287" y="455" width="3" height="6" fill="#c0c0c0"/>
<rect x="291" y="455" width="3" height="5" fill="#c0c0c0"/>
<rect x="295" y="455" width="3" height="5" fill="#c0c0c0"/>
<rect x="299" y="455" width="3" height="7" fill="#c0c0c0"/>
<rect x="303" y="455" width="3" height="10" fill="#c0c0c0"/>
<rect x="307" y="455" width="3" height="14" fill="#c0c0c0"/>
<rect x="311" y="455" width="3" height="17" fill="#c0c0c0"/>
<rect x="315" y="455" width="3" height="18" fill="#c0c0c0"/>
<rect x="319" y="455" width="3" height="20" fill="#c0c0c0"/>
<rect x="323" y="455" width="3" height="20" fill="#c0c0c0"/>
<rect x="327" y="455" width="3" height="21" fill="#c0c0c0"/>
<rect x="331" y="455" width="3" height="17" fill="#c0c0c0"/>
<rect x="335" y="455" width="3" height="16" fill="#c0c0c0"/>
<rect x="339" y="455" width="3" height="16" fill="#c0c0c0"/>
<rect x="343" y="455" width="3" height="16" fill="#c0c0c0"/>
<rect x="347" y="455" width="3" height="17" fill="#c0c0c0"/>
<rect x="351" y="455" width="3" height="18" fill="#c0c0c0"/>
<rect x="355" y="455" width="3" height="24" fill="#c0c0c0"/>
<rect x="359" y="455" width="3" height="28" fill="#c0c0c0"/>
<rect x="363" y="455" width="3" height="32" fill="#c0c0c0"/>
<rect x="367" y="455" width="3" height="34" fill="#c0c0c0"/>
<rect x="371" y="455" width="3" height="33" fill="#c0c0c0"/>
<rect x="375" y="455" width="3" height="31" fill="#c0c0c0"/>
<rect x="379" y="455" width="3" height="28" fill="#c0c0c0"/>
<rect x="383" y="455" width="3" height="26" fill="#c0c0c0"/>
<rect x="387" y="455" width="3" height="24" fill="#c0c0c0"/>
<rect x="391" y="455" width="3" height="23" fill="#c0c0c0"/>
<rect x="395" y="455" width="3" height="23" fill="#c0c0c0"/>
<rect x="399" y="455" width="3" height="19" fill="#c0c0c0"/>
<rect x="403" y="455" width="3" height="16" fill="#c0c0c0"/>
<rect x="407" y="455" width="3" height="15" fill="#c0c0c0"/>
<rect x="411" y="455" width="3" height="16" fill="#c0c0c0"/>
<rect x="415" y="455" width="3" height="14" fill="#c0c0c0"/>
<rect x="419" y="455" width="3" height="12" fill="#c0c0c0"/>
<rect x="423" y="455" width="3" height="11" fill="#c0c0c0"/>
<rect x="427" y="455" width="3" height="12" fill="#c0c0c0"/>
<rect x="431" y="455" width="3" height="14" fill="#c0c0c0"/>
<rect x="435" y="455" width="3" height="15" fill="#c0c0c0"/>
<rect x="439" y="455" width="3" height="16" fill="#c0c0c0"/>
<rect x="443" y="455" width="3" height="19" fill="#c0c0c0"/>
<rect x="447" y="455" width="3" height="22" fill="#c0c0c0"/>
<rect x="451" y="455" width="3" height="24" fill="#c0c0c0"/>
<rect x="455" y="455" width="3" height="25" fill="#c0c0c0"/>
<rect x="459" y="455" width="3" height="27" fill="#c0c0c0"/>
<rect x="463" y="455" width="3" height="28" fill="#c0c0c0"/>
<rect x="467" y="455" width="3" height="27" fill="#c0c0c0"/>
<rect x="471" y="455" width="3" height="23" fill="#c0c0c0"/>
<rect x="475" y="455" width="3" height="21" fill="#c0c0c0"/>
<rect x="479" y="455" width="3" height="19" fill="#c0c0c0"/>
<rect x="483" y="455" width="3" height="17" fill="#c0c0c0"/>
<rect x="487" y="455" width="3" height="17" fill="#c0c0c0"/>
<rect x="491" y="455" width="3" height="16" fill="#c0c0c0"/>
<rect x="495" y="455" width="3" height="12" fill="#c0c0c0"/>
<rect x="499" y="455" width="3" height="8" fill="#c0c0c0"/>
<rect x="503" y="455" width="3" height="5" fill="#c0c0c0"/>
<rect x="507" y="455" width="3" height="3" fill="#c0c0c0"/>
<rect x="511" y="454" width="3" height="1" fill="#c0c0c0"/>
<rect x="515" y="450" width="3" height="5" fill="#c0c0c0"/>
<rect x="519" y="445" width="3" height="10" fill="#c0c0c0"/>
<rect x="523" y="439" width="3" height="16" fill="#c0c0c0"/>
<rect x="527" y="435" width="3" height="20" fill="#c0c0c0"/>
<rect x="531" y="432" width="3" height="23" fill="#c0c0c0"/>
<rect x="535" y="431" width="3" height="24" fill="#c0c0c0"/>
<rect x="539" y="431" width="3" height="24" fill="#c0c0c0"/>
<rect x="543" y="433" width="3" height="22" fill="#c0c0c0"/>
<rect x="547" y="435" width="3" height="20" fill="#c0c0c0"/>
<rect x="551" y="437" width="3" height="18" fill="#c0c0c0"/>
<rect x="555" y="439" width="3" height="16" fill="#c0c0c0"/>
<rect x="559" y="438" width="3" height="17" fill="#c0c0c0"/>
<rect x="563" y="438" width="3" height="17" fill="#c0c0c0"/>
<rect x="567" y="435" width="3" height="20" fill="#c0c0c0"/>
<rect x="571" y="434" width="3" height="21" fill="#c0c0c0"/>
<rect x="575" y="434" width="3" height="21" fill="#c0c0c0"/>
<rect x="579" y="434" width="3" height="21" fill="#c0c0c0"/>
<rect x="583" y="438" width="3" height="17" fill="#c0c0c0"/>
<rect x="587" y="442" width="3" height="13" fill="#c0c0c0"/>
<rect x="591" y="447" width="3" height="8" fill="#c0c0c0"/>
<rect x="595" y="451" width="3" height="4" fill="#c0c0c0"/>
<rect x="599" y="455" width="3" height="2" fill="#c0c0c0"/>
<rect x="603" y="455" width="3" height="5" fill="#c0c0c0"/>
<rect x="607" y="455" width="3" height="8" fill="#c0c0c0"/>
<rect x="611" y="455" width="3" height="10" fill="#c0c0c0"/>
<rect x="615" y="455" width="3" height="13" fill="#c0c0c0"/>
<rect x="619" y="455" width="3" height="12" fill="#c0c0c0"/>
<rect x="623" y="455" width="3" height="10" fill="#c0c0c0"/>
<rect x="627" y="455" width="3" height="7" fill="#c0c0c0"/>
<rect x="631" y="455" width="3" height="6" fill="#c0c0c0"/>
<rect x="635" y="455" width="3" height="5" fill="#c0c0c0"/>
<rect x="639" y="455" width="3" height="4" fill="#c0c0c0"/>
<rect x="643" y="455" width="3" height="6" fill="#c0c0c0"/>
<rect x="647" y="455" width="3" height="7" fill="#c0c0c0"/>
<rect x="651" y="455" width="3" height="9" fill="#c0c0c0"/>
<rect x="655" y="455" width="3" height="10" fill="#c0c0c0"/>
<rect x="659" y="455" width="3" height="12" fill="#c0c0c0"/>
<rect x="663" y="455" width="3" height="13" fill="#c0c0c0"/>
<rect x="667" y="455" width="3" height="12" fill="#c0c0c0"/>
<rect x="671" y="455" width="3" height="11" fill="#c0c0c0"/>
<rect x="675" y="455" width="3" height="9" fill="#c0c0c0"/>
<rect x="679" y="455" width="3" height="6" fill="#c0c0c0"/>
<rect x="683" y="455" width="3" height="3" fill="#c0c0c0"/>
<rect x="687" y="455" width="3" height="1" fill="#c0c0c0"/>
<rect x="691" y="455" width="3" height="1" fill="#c0c0c0"/>
<rect x="695" y="455" width="3" height="1" fill="#c0c0c0"/>
<rect x="699" y="454" width="3" height="1" fill="#c0c0c0"/>
<rect x="703" y="452" width="3" height="3" fill="#c0c0c0"/>
<rect x="707" y="451" width="3" height="4" fill="#c0c0c0"/>
<rect x="711" y="449" width="3" height="6" fill="#c0c0c0"/>
<rect x="715" y="446" width="3" height="9" fill="#c0c0c0"/>
<rect x="719" y="445" width="3" height="10" fill="#c0c0c0"/>
<rect x="723" y="443" width="3" height="12" fill="#c0c0c0"/>
<rect x="727" y="441" width="3" height="14" fill="#c0c0c0"/>
<rect x="731" y="441" width="3" height="14" fill="#c0c0c0"/>
<rect x="735" y="441" width="3" height="14" fill="#c0c0c0"/>
<rect x="739" y="444" width="3" height="11" fill="#c0c0c0"/>
<rect x="743" y="446" width="3" height="9" fill="#c0c0c0"/>
<rect x="747" y="448" width="3" height="7" fill="#c0c0c0"/>
<rect x="751" y="449" width="3" height="6" fill="#c0c0c0"/>
<rect x="755" y="450" width="3" height="5" fill="#c0c0c0"/>
<rect x="759" y="450" width="3" height="5" fill="#c0c0c0"/>
<rect x="763" y="447" width="3" height="8" fill="#c0c0c0"/>
<rect x="767" y="443" width="3" height="12" fill="#c0c0c0"/>
<rect x="771" y="440" width="3" height="15" fill="#c0c0c0"/>
<rect x="775" y="436" width="3" height="19" fill="#c0c0c0"/>
<rect x="779" y="434" width="3" height="21" fill="#c0c0c0"/>
<rect x="783" y="433" width="3" height="22" fill="#c0c0c0"/>
<rect x="787" y="435" width="3" height="20" fill="#c0c0c0"/>
<rect x="791" y="436" width="3" height="19" fill="#c0c0c0"/>
<rect x="795" y="436" width="3" height="19" fill="#c0c0c0"/>
<rect x="799" y="439" width="3" height="16" fill="#c0c0c0"/>
<rect x="803" y="442" width="3" height="13" fill="#c0c0c0"/>
<rect x="807" y="446" width="3" height="9" fill="#c0c0c0"/>
<rect x="811" y="449" width="3" height="6" fill="#c0c0c0"/>
<rect x="815" y="450" width="3" height="5" fill="#c0c0c0"/>
<rect x="819" y="451" width="3" height="4" fill="#c0c0c0"/>
<rect x="823" y="452" width="3" height="3" fill="#c0c0c0"/>
<rect x="827" y="452" width="3" height="3" fill="#c0c0c0"/>
<rect x="831" y="452" width="3" height="3" fill="#c0c0c0"/>
<rect x="835" y="455" width="3" height="1" fill="#c0c0c0"/>
<rect x="839" y="455" width="3" height="4" fill="#c0c0c0"/>
<rect x="843" y="455" width="3" height="6" fill="#c0c0c0"/>
<rect x="847" y="455" width="3" height="7" fill="#c0c0c0"/>
<rect x="851" y="455" width="3" height="8" fill="#c0c0c0"/>
<rect x="855" y="455" width="3" height="11" fill="#c0c0c0"/>
<rect x="859" y="455" width="3" height="15" fill="#c0c0c0"/>
<rect x="863" y="455" width="3" height="17" fill="#c0c0c0"/>
<rect x="867" y="455" width="3" height="19" fill="#c0c0c0"/>
<rect x="871" y="455" width="3" height="22" fill="#c0c0c0"/>
<rect x="875" y="455" width="3" height="23" fill="#c0c0c0"/>
<rect x="879" y="455" width="3" height="23" fill="#c0c0c0"/>
<rect x="883" y="455" width="3" height="19" fill="#c0c0c0"/>
<rect x="887" y="455" width="3" height="16" fill="#c0c0c0"/>
<rect x="891" y="455" width="3" height="15" fill="#c0c0c0"/>
<rect x="895" y="455" width="3" height="15" fill="#c0c0c0"/>
<rect x="899" y="455" width="3" height="17" fill="#c0c0c0"/>
<rect x="903" y="455" width="3" height="20" fill="#c0c0c0"/>
<rect x="907" y="455" width="3" height="22" fill="#c0c0c0"/>
<rect x="911" y="455" width="3" height="25" fill="#c0c0c0"/>
<rect x="915" y="455" width="3" height="28" fill="#c0c0c0"/>
<rect x="919" y="455" width="3" height="30" fill="#c0c0c0"/>
<rect x="923" y="455" width="3" height="32" fill="#c0c0c0"/>
</g>
<path d="M153 431.5h3M149 432.5h4M156 432.5h4M146 433.5h3M160 433.5h3M144 434.5h2M163 434.5h2M143 435.5h1M165 435.5h1M550 435.5h24M141 436.5h2M166 436.5h1M547 436.5h3M574 436.5h10M139 437.5h2M167 437.5h1M545 437.5h2M584 437.5h7M794 437.5h16M138 438.5h1M168 438.5h2M543 438.5h2M591 438.5h3M792 438.5h2M810 438.5h2M98 439.5h3M136 439.5h2M170 439.5h1M542 439.5h1M594 439.5h3M790 439.5h2M812 439.5h2M94 440.5h4M101 440.5h4M134 440.5h2M171 440.5h1M541 440.5h1M597 440.5h2M787 440.5h3M814 440.5h2M91 441.5h3M105 441.5h4M132 441.5h2M172 441.5h1M539 441.5h2M599 441.5h2M785 441.5h2M816 441.5h2M89 442.5h2M109 442.5h2M130 442.5h2M173 442.5h1M538 442.5h1M601 442.5h2M782 442.5h3M818 442.5h2M87 443.5h2M111 443.5h3M126 443.5h4M174 443.5h1M536 443.5h2M603 443.5h1M779 443.5h3M820 443.5h2M85 444.5h2M114 444.5h12M175 444.5h1M535 444.5h1M604 444.5h2M736 444.5h20M775 444.5h4M822 444.5h2M83 445.5h2M176 445.5h2M534 445.5h1M606 445.5h2M734 445.5h2M756 445.5h5M769 445.5h6M824 445.5h2M82 446.5h1M178 446.5h1M533 446.5h1M608 446.5h1M732 446.5h2M761 446.5h8M826 446.5h2M81 447.5h1M179 447.5h1M532 447.5h1M609 447.5h1M729 447.5h3M828 447.5h2M80 448.5h1M180 448.5h1M531 448.5h1M610 448.5h2M727 448.5h2M830 448.5h3M79 449.5h1M181 449.5h2M529 449.5h2M612 449.5h1M724 449.5h3M833 449.5h2M78 450.5h1M183 450.5h1M528 450.5h1M613 450.5h1M721 450.5h3M835 450.5h3M77 451.5h1M184 451.5h2M527 451.5h1M614 451.5h1M718 451.5h3M838 451.5h3M76 452.5h1M186 452.5h2M526 452.5h1M615 452.5h2M715 452.5h3M841 452.5h4M75 453.5h1M188 453.5h1M525 453.5h1M617 453.5h1M712 453.5h3M845 453.5h3M74 454.5h1M189 454.5h2M524 454.5h1M618 454.5h1M709 454.5h3M848 454.5h3M72 455.5h2M191 455.5h2M523 455.5h1M619 455.5h2M706 455.5h3M851 455.5h2M71 456.5h1M193 456.5h2M522 456.5h1M621 456.5h1M703 456.5h3M853 456.5h3M70 457.5h1M195 457.5h2M520 457.5h2M622 457.5h2M701 457.5h2M856 457.5h3M68 458.5h2M197 458.5h3M519 458.5h1M624 458.5h2M699 458.5h2M859 458.5h2M66 459.5h2M200 459.5h3M518 459.5h1M626 459.5h2M697 459.5h2M861 459.5h2M64 460.5h2M203 460.5h4M517 460.5h1M628 460.5h3M655 460.5h5M695 460.5h2M863 460.5h1M4 461.5h3M61 461.5h3M207 461.5h6M515 461.5h2M631 461.5h2M639 461.5h16M660 461.5h4M689 461.5h6M864 461.5h2M7 462.5h6M58 462.5h3M213 462.5h7M307 462.5h10M513 462.5h2M633 462.5h6M664 462.5h7M686 462.5h3M866 462.5h2M13 463.5h4M54 463.5h4M220 463.5h3M302 463.5h5M317 463.5h3M511 463.5h2M671 463.5h15M868 463.5h1M17 464.5h37M223 464.5h4M299 464.5h3M320 464.5h2M509 464.5h2M869 464.5h2M227 465.5h2M297 465.5h2M322 465.5h2M507 465.5h2M871 465.5h2M229 466.5h3M296 466.5h1M324 466.5h2M505 466.5h2M873 466.5h2M232 467.5h2M294 467.5h2M326 467.5h2M429 467.5h13M504 467.5h1M875 467.5h2M234 468.5h2M293 468.5h1M328 468.5h3M427 468.5h2M442 468.5h6M502 468.5h2M877 468.5h2M236 469.5h2M292 469.5h1M331 469.5h3M424 469.5h3M448 469.5h4M500 469.5h2M879 469.5h2M238 470.5h2M290 470.5h2M334 470.5h4M422 470.5h2M452 470.5h4M499 470.5h1M881 470.5h2M240 471.5h2M289 471.5h1M338 471.5h17M419 471.5h3M456 471.5h3M497 471.5h2M883 471.5h4M242 472.5h2M287 472.5h2M355 472.5h4M417 472.5h2M459 472.5h3M495 472.5h2M887 472.5h29M244 473.5h3M286 473.5h1M359 473.5h4M414 473.5h3M462 473.5h2M493 473.5h2M916 473.5h3M247 474.5h2M284 474.5h2M363 474.5h2M412 474.5h2M464 474.5h2M491 474.5h2M919 474.5h4M249 475.5h3M282 475.5h2M365 475.5h2M409 475.5h3M466 475.5h4M487 475.5h4M923 475.5h2M252 476.5h3M280 476.5h2M367 476.5h2M407 476.5h2M470 476.5h5M481 476.5h6M255 477.5h2M278 477.5h2M369 477.5h2M404 477.5h3M475 477.5h6M257 478.5h3M275 478.5h3M371 478.5h3M402 478.5h2M260 479.5h3M270 479.5h5M374 479.5h3M399 479.5h3M263 480.5h7M377 480.5h4M397 480.5h2M381 481.5h6M394 481.5h3M387 482.5h7" fill="none" stroke="#ff0000" stroke-width="1" shape-rendering="crispEdges"/>
<text x="8.9" y="436" font-size="9.8" fill="#000" textLength="153" lengthAdjust="spacingAndGlyphs" stroke="#000" stroke-width="0.2">MACD(12,26,9) -0.004469 -0.003080</text>
<g shape-rendering="crispEdges">
<rect x="1167" y="425" width="1" height="1" fill="#000"/>
<rect x="1167" y="455" width="2" height="1" fill="#000"/>
<rect x="1167" y="490" width="1" height="1" fill="#000"/>
</g>
<text x="1170.3" y="434" font-size="9.8" fill="#000" textLength="32.4" lengthAdjust="spacingAndGlyphs" stroke="#000" stroke-width="0.2">0.00463</text>
<text x="1170.3" y="459" font-size="9.8" fill="#000" textLength="17.5" lengthAdjust="spacingAndGlyphs" stroke="#000" stroke-width="0.2">0.00</text>
<text x="1168.5" y="488" font-size="9.8" fill="#000" textLength="41" lengthAdjust="spacingAndGlyphs" stroke="#000" stroke-width="0.2">-0.005299</text>
<g shape-rendering="crispEdges">
<line x1="5" y1="519.5" x2="1166" y2="519.5" stroke="#c0c0c0" stroke-width="1" stroke-dasharray="3,3"/>
<line x1="5" y1="552.5" x2="1166" y2="552.5" stroke="#c0c0c0" stroke-width="1" stroke-dasharray="3,3"/>
<rect x="1167" y="519" width="2" height="1" fill="#000"/>
<rect x="1167" y="552" width="2" height="1" fill="#000"/>
</g>
<path d="M71 517.5h2M68 518.5h3M73 518.5h1M776 518.5h1M67 519.5h1M73 519.5h1M524 519.5h5M774 519.5h2M777 519.5h2M65 520.5h2M74 520.5h1M522 520.5h2M529 520.5h1M772 520.5h2M779 520.5h2M64 521.5h1M75 521.5h1M124 521.5h2M520 521.5h2M530 521.5h2M770 521.5h2M781 521.5h1M63 522.5h1M75 522.5h1M79 522.5h3M122 522.5h2M126 522.5h7M519 522.5h1M532 522.5h2M571 522.5h6M728 522.5h1M768 522.5h2M782 522.5h2M63 523.5h1M76 523.5h3M82 523.5h3M120 523.5h2M133 523.5h2M518 523.5h1M534 523.5h3M568 523.5h3M577 523.5h2M716 523.5h1M727 523.5h1M729 523.5h1M766 523.5h2M784 523.5h1M62 524.5h1M85 524.5h1M119 524.5h1M135 524.5h10M518 524.5h1M537 524.5h1M567 524.5h1M579 524.5h2M714 524.5h2M717 524.5h1M725 524.5h2M729 524.5h1M764 524.5h2M785 524.5h1M61 525.5h1M85 525.5h1M117 525.5h2M144 525.5h1M517 525.5h1M538 525.5h1M566 525.5h1M580 525.5h1M712 525.5h2M718 525.5h1M724 525.5h1M730 525.5h1M764 525.5h1M785 525.5h1M61 526.5h1M86 526.5h1M116 526.5h1M145 526.5h1M516 526.5h1M539 526.5h1M565 526.5h1M581 526.5h1M711 526.5h1M719 526.5h1M722 526.5h2M730 526.5h1M763 526.5h1M786 526.5h1M59 527.5h2M86 527.5h1M115 527.5h1M145 527.5h1M515 527.5h1M540 527.5h1M563 527.5h2M581 527.5h1M711 527.5h1M720 527.5h2M731 527.5h1M763 527.5h1M786 527.5h1M796 527.5h1M56 528.5h3M87 528.5h1M114 528.5h1M146 528.5h1M514 528.5h1M541 528.5h1M560 528.5h3M581 528.5h1M687 528.5h2M710 528.5h1M731 528.5h1M762 528.5h1M787 528.5h1M795 528.5h1M797 528.5h1M55 529.5h1M87 529.5h1M113 529.5h1M146 529.5h1M514 529.5h1M542 529.5h2M559 529.5h1M582 529.5h1M680 529.5h7M689 529.5h1M704 529.5h1M709 529.5h1M732 529.5h1M762 529.5h1M787 529.5h1M793 529.5h2M797 529.5h1M54 530.5h1M88 530.5h1M112 530.5h1M147 530.5h1M276 530.5h1M500 530.5h5M513 530.5h1M544 530.5h1M557 530.5h2M582 530.5h1M678 530.5h2M689 530.5h1M703 530.5h1M705 530.5h2M709 530.5h1M733 530.5h2M761 530.5h1M788 530.5h5M798 530.5h1M53 531.5h1M89 531.5h1M112 531.5h1M147 531.5h1M275 531.5h1M277 531.5h1M498 531.5h2M505 531.5h2M511 531.5h2M545 531.5h1M556 531.5h1M582 531.5h1M676 531.5h2M690 531.5h1M702 531.5h1M707 531.5h2M735 531.5h2M761 531.5h1M798 531.5h1M52 532.5h1M89 532.5h1M111 532.5h1M148 532.5h1M274 532.5h1M278 532.5h2M283 532.5h2M496 532.5h2M507 532.5h4M546 532.5h2M554 532.5h2M582 532.5h1M676 532.5h1M690 532.5h1M701 532.5h1M737 532.5h1M760 532.5h1M799 532.5h1M828 532.5h1M24 533.5h1M51 533.5h1M90 533.5h1M111 533.5h1M148 533.5h1M273 533.5h1M280 533.5h3M285 533.5h2M291 533.5h2M495 533.5h1M548 533.5h6M583 533.5h1M628 533.5h5M675 533.5h1M691 533.5h1M700 533.5h1M738 533.5h1M760 533.5h1M799 533.5h1M827 533.5h1M829 533.5h2M23 534.5h1M25 534.5h1M51 534.5h1M90 534.5h1M110 534.5h1M149 534.5h2M268 534.5h5M287 534.5h4M293 534.5h1M495 534.5h1M583 534.5h1M627 534.5h1M633 534.5h2M639 534.5h2M675 534.5h1M691 534.5h1M699 534.5h1M738 534.5h1M759 534.5h1M800 534.5h1M826 534.5h1M831 534.5h2M887 534.5h2M21 535.5h2M26 535.5h2M50 535.5h1M91 535.5h1M110 535.5h1M151 535.5h2M192 535.5h2M268 535.5h1M294 535.5h1M400 535.5h6M494 535.5h1M583 535.5h1M625 535.5h2M635 535.5h4M641 535.5h1M674 535.5h1M692 535.5h1M697 535.5h2M739 535.5h1M748 535.5h6M757 535.5h2M800 535.5h1M820 535.5h1M826 535.5h1M833 535.5h1M884 535.5h3M889 535.5h1M20 536.5h1M28 536.5h1M49 536.5h1M91 536.5h1M100 536.5h1M109 536.5h1M153 536.5h2M191 536.5h1M194 536.5h3M267 536.5h1M295 536.5h1M332 536.5h5M400 536.5h1M406 536.5h3M416 536.5h6M493 536.5h1M584 536.5h1M623 536.5h2M641 536.5h1M674 536.5h1M692 536.5h5M740 536.5h1M747 536.5h1M754 536.5h3M801 536.5h1M818 536.5h2M821 536.5h2M825 536.5h1M833 536.5h1M884 536.5h1M890 536.5h1M19 537.5h1M29 537.5h1M49 537.5h1M92 537.5h1M99 537.5h1M101 537.5h1M109 537.5h1M155 537.5h6M180 537.5h6M189 537.5h2M197 537.5h1M267 537.5h1M296 537.5h1M332 537.5h1M337 537.5h1M399 537.5h1M409 537.5h1M415 537.5h1M422 537.5h3M472 537.5h1M483 537.5h2M493 537.5h1M584 537.5h2M620 537.5h3M642 537.5h1M674 537.5h1M741 537.5h1M746 537.5h1M802 537.5h2M816 537.5h2M823 537.5h2M834 537.5h1M883 537.5h1M890 537.5h1M18 538.5h1M30 538.5h2M48 538.5h1M93 538.5h1M98 538.5h1M102 538.5h1M108 538.5h1M161 538.5h1M180 538.5h1M186 538.5h3M197 538.5h1M267 538.5h1M297 538.5h1M331 538.5h1M338 538.5h1M388 538.5h1M399 538.5h1M409 538.5h1M415 538.5h1M425 538.5h1M471 538.5h1M473 538.5h2M479 538.5h4M485 538.5h1M492 538.5h1M586 538.5h3M620 538.5h1M643 538.5h1M673 538.5h1M742 538.5h2M745 538.5h1M804 538.5h1M814 538.5h2M834 538.5h1M883 538.5h1M891 538.5h1M18 539.5h1M32 539.5h1M47 539.5h1M94 539.5h2M97 539.5h1M103 539.5h1M106 539.5h2M161 539.5h1M179 539.5h1M198 539.5h1M266 539.5h1M298 539.5h1M331 539.5h1M338 539.5h1M387 539.5h1M389 539.5h2M398 539.5h1M410 539.5h1M414 539.5h1M426 539.5h1M471 539.5h1M475 539.5h4M486 539.5h1M491 539.5h1M589 539.5h1M619 539.5h1M643 539.5h1M668 539.5h1M673 539.5h1M744 539.5h1M805 539.5h2M811 539.5h3M835 539.5h1M882 539.5h1M892 539.5h1M17 540.5h1M33 540.5h1M46 540.5h1M96 540.5h1M104 540.5h2M162 540.5h1M179 540.5h1M198 540.5h1M204 540.5h2M266 540.5h1M299 540.5h1M330 540.5h1M339 540.5h1M386 540.5h1M391 540.5h2M398 540.5h1M410 540.5h1M414 540.5h1M426 540.5h1M432 540.5h1M470 540.5h1M486 540.5h1M490 540.5h1M590 540.5h2M619 540.5h1M644 540.5h2M667 540.5h1M669 540.5h2M672 540.5h1M807 540.5h4M835 540.5h1M848 540.5h1M882 540.5h1M893 540.5h2M16 541.5h1M33 541.5h1M45 541.5h1M162 541.5h1M178 541.5h1M199 541.5h1M203 541.5h1M206 541.5h8M265 541.5h1M300 541.5h1M330 541.5h1M340 541.5h1M379 541.5h2M386 541.5h1M393 541.5h1M398 541.5h1M411 541.5h1M413 541.5h1M427 541.5h1M430 541.5h2M433 541.5h1M469 541.5h1M487 541.5h1M489 541.5h1M592 541.5h1M618 541.5h1M646 541.5h3M666 541.5h1M671 541.5h2M836 541.5h5M847 541.5h1M849 541.5h1M881 541.5h1M895 541.5h2M4 542.5h1M15 542.5h1M34 542.5h1M44 542.5h1M163 542.5h1M178 542.5h1M199 542.5h1M201 542.5h2M214 542.5h7M265 542.5h1M301 542.5h1M330 542.5h1M341 542.5h2M376 542.5h3M381 542.5h2M385 542.5h1M394 542.5h1M397 542.5h1M411 542.5h1M413 542.5h1M428 542.5h2M434 542.5h2M439 542.5h2M469 542.5h1M488 542.5h1M593 542.5h1M604 542.5h1M618 542.5h1M649 542.5h2M666 542.5h1M841 542.5h2M845 542.5h2M850 542.5h2M881 542.5h1M897 542.5h1M5 543.5h2M13 543.5h2M34 543.5h1M43 543.5h1M163 543.5h1M177 543.5h1M200 543.5h1M221 543.5h1M265 543.5h1M302 543.5h1M329 543.5h1M343 543.5h3M374 543.5h2M383 543.5h2M394 543.5h1M397 543.5h1M412 543.5h1M436 543.5h3M441 543.5h1M468 543.5h1M594 543.5h1M603 543.5h1M605 543.5h1M617 543.5h1M651 543.5h6M665 543.5h1M843 543.5h2M852 543.5h1M880 543.5h1M898 543.5h1M7 544.5h6M35 544.5h1M41 544.5h2M164 544.5h1M167 544.5h3M177 544.5h1M221 544.5h1M264 544.5h1M303 544.5h1M329 544.5h1M346 544.5h3M372 544.5h2M395 544.5h2M442 544.5h1M467 544.5h1M595 544.5h1M601 544.5h2M606 544.5h2M617 544.5h1M657 544.5h2M663 544.5h2M853 544.5h1M880 544.5h1M898 544.5h1M35 545.5h1M39 545.5h2M164 545.5h3M170 545.5h7M222 545.5h1M260 545.5h5M304 545.5h2M311 545.5h3M323 545.5h3M328 545.5h1M349 545.5h2M372 545.5h1M396 545.5h1M443 545.5h1M465 545.5h2M596 545.5h5M608 545.5h6M616 545.5h1M659 545.5h4M854 545.5h1M879 545.5h1M899 545.5h1M36 546.5h3M222 546.5h1M247 546.5h3M260 546.5h1M306 546.5h5M314 546.5h9M326 546.5h3M351 546.5h2M371 546.5h1M444 546.5h2M464 546.5h1M614 546.5h3M855 546.5h1M879 546.5h1M900 546.5h1M223 547.5h1M244 547.5h3M250 547.5h3M259 547.5h1M353 547.5h1M371 547.5h1M446 547.5h11M463 547.5h1M856 547.5h1M878 547.5h1M901 547.5h2M223 548.5h1M232 548.5h1M243 548.5h1M253 548.5h1M259 548.5h1M353 548.5h1M371 548.5h1M457 548.5h1M462 548.5h1M857 548.5h2M863 548.5h2M878 548.5h1M903 548.5h2M224 549.5h1M231 549.5h1M233 549.5h1M241 549.5h2M253 549.5h1M258 549.5h1M354 549.5h1M370 549.5h1M458 549.5h2M461 549.5h1M859 549.5h4M865 549.5h2M877 549.5h1M905 549.5h2M225 550.5h2M229 550.5h2M234 550.5h2M239 550.5h2M254 550.5h1M258 550.5h1M355 550.5h1M370 550.5h1M460 550.5h1M867 550.5h3M877 550.5h1M907 550.5h3M227 551.5h2M236 551.5h3M254 551.5h1M257 551.5h1M355 551.5h1M369 551.5h1M870 551.5h7M910 551.5h3M255 552.5h1M257 552.5h1M356 552.5h1M369 552.5h1M913 552.5h2M255 553.5h2M357 553.5h2M369 553.5h1M915 553.5h3M923 553.5h2M256 554.5h1M359 554.5h3M368 554.5h1M918 554.5h5M362 555.5h7" fill="none" stroke="#1e90ff" stroke-width="1" shape-rendering="crispEdges"/>
<text x="8.4" y="506" font-size="9.8" fill="#000" textLength="67.2" lengthAdjust="spacingAndGlyphs" stroke="#000" stroke-width="0.2">RSI(14) 28.2063</text>
<text x="1170.3" y="504" font-size="9.8" fill="#000" textLength="14.7" lengthAdjust="spacingAndGlyphs" stroke="#000" stroke-width="0.2">100</text>
<text x="1169.5" y="523" font-size="9.8" fill="#000" textLength="9.8" lengthAdjust="spacingAndGlyphs" stroke="#000" stroke-width="0.2">70</text>
<text x="1169.5" y="556" font-size="9.8" fill="#000" textLength="9.8" lengthAdjust="spacingAndGlyphs" stroke="#000" stroke-width="0.2">30</text>
<text x="1170.3" y="574" font-size="9.8" fill="#000" textLength="4.9" lengthAdjust="spacingAndGlyphs" stroke="#000" stroke-width="0.2">0</text>
<g shape-rendering="crispEdges">
<rect x="4" y="578" width="1" height="3" fill="#000"/>
<rect x="68" y="578" width="1" height="3" fill="#000"/>
<rect x="132" y="578" width="1" height="3" fill="#000"/>
<rect x="196" y="578" width="1" height="3" fill="#000"/>
<rect x="260" y="578" width="1" height="3" fill="#000"/>
<rect x="324" y="578" width="1" height="3" fill="#000"/>
<rect x="388" y="578" width="1" height="3" fill="#000"/>
<rect x="452" y="578" width="1" height="3" fill="#000"/>
<rect x="516" y="578" width="1" height="3" fill="#000"/>
<rect x="580" y="578" width="1" height="3" fill="#000"/>
<rect x="644" y="578" width="1" height="3" fill="#000"/>
<rect x="708" y="578" width="1" height="3" fill="#000"/>
<rect x="772" y="578" width="1" height="3" fill="#000"/>
<rect x="836" y="578" width="1" height="3" fill="#000"/>
<rect x="900" y="578" width="1" height="3" fill="#000"/>
</g>
<text x="2.8" y="590" font-size="9.8" fill="#000" textLength="55.2" lengthAdjust="spacingAndGlyphs" stroke="#000" stroke-width="0.2">20 May 2019</text>
<text x="67.3" y="590" font-size="9.8" fill="#000" textLength="44.6" lengthAdjust="spacingAndGlyphs" stroke="#000" stroke-width="0.2">7 Jun 2019</text>
<text x="131.1" y="590" font-size="9.8" fill="#000" textLength="49.9" lengthAdjust="spacingAndGlyphs" stroke="#000" stroke-width="0.2">26 Jun 2019</text>
<text x="195.2" y="590" font-size="9.8" fill="#000" textLength="47.0" lengthAdjust="spacingAndGlyphs" stroke="#000" stroke-width="0.2">15 Jul 2019</text>
<text x="258.7" y="590" font-size="9.8" fill="#000" textLength="48.5" lengthAdjust="spacingAndGlyphs" stroke="#000" stroke-width="0.2">2 Aug 2019</text>
<text x="322.8" y="590" font-size="9.8" fill="#000" textLength="53.1" lengthAdjust="spacingAndGlyphs" stroke="#000" stroke-width="0.2">21 Aug 2019</text>
<text x="386.9" y="590" font-size="9.8" fill="#000" textLength="47.5" lengthAdjust="spacingAndGlyphs" stroke="#000" stroke-width="0.2">9 Sep 2019</text>
<text x="451.0" y="590" font-size="9.8" fill="#000" textLength="51.9" lengthAdjust="spacingAndGlyphs" stroke="#000" stroke-width="0.2">27 Sep 2019</text>
<text x="515.0" y="590" font-size="9.8" fill="#000" textLength="51.3" lengthAdjust="spacingAndGlyphs" stroke="#000" stroke-width="0.2">16 Oct 2019</text>
<text x="579.1" y="590" font-size="9.8" fill="#000" textLength="49.3" lengthAdjust="spacingAndGlyphs" stroke="#000" stroke-width="0.2">4 Nov 2019</text>
<text x="643.2" y="590" font-size="9.8" fill="#000" textLength="53.9" lengthAdjust="spacingAndGlyphs" stroke="#000" stroke-width="0.2">22 Nov 2019</text>
<text x="707.3" y="590" font-size="9.8" fill="#000" textLength="51.8" lengthAdjust="spacingAndGlyphs" stroke="#000" stroke-width="0.2">11 Dec 2019</text>
<text x="770.5" y="590" font-size="9.8" fill="#000" textLength="52.6" lengthAdjust="spacingAndGlyphs" stroke="#000" stroke-width="0.2">30 Dec 2019</text>
<text x="835.3" y="590" font-size="9.8" fill="#000" textLength="50.1" lengthAdjust="spacingAndGlyphs" stroke="#000" stroke-width="0.2">17 Jan 2020</text>
<text x="898.9" y="590" font-size="9.8" fill="#000" textLength="47.3" lengthAdjust="spacingAndGlyphs" stroke="#000" stroke-width="0.2">5 Feb 2020</text>
<g shape-rendering="crispEdges">
<rect x="0" y="598" width="1209" height="1" fill="#e8e8e8"/>
<rect x="0" y="599" width="1209" height="26" fill="#f0f0f0"/>
<rect x="0" y="600" width="1209" height="1" fill="#000"/>
<rect x="0" y="600" width="1" height="19" fill="#696969"/>
<rect x="2" y="601" width="2" height="18" fill="#e8e8e8"/>
<rect x="5" y="600" width="104" height="19" fill="#000"/>
<rect x="6" y="600" width="102" height="18" fill="#fff"/>
<rect x="0" y="619" width="1209" height="2" fill="#f9f9f9"/>
<rect x="0" y="623" width="1209" height="1" fill="#d4d4d4"/>
<rect x="0" y="624" width="1209" height="1" fill="#a8a8a8"/>
<rect x="213" y="603" width="1" height="14" fill="#505050"/>
<rect x="313" y="603" width="1" height="14" fill="#505050"/>
<rect x="417" y="603" width="1" height="14" fill="#505050"/>
<rect x="521" y="603" width="1" height="14" fill="#505050"/>
<rect x="625" y="603" width="1" height="14" fill="#505050"/>
<rect x="693" y="603" width="1" height="14" fill="#505050"/>
<rect x="789" y="603" width="1" height="14" fill="#505050"/>
<rect x="889" y="603" width="1" height="14" fill="#505050"/>
<rect x="993" y="603" width="1" height="14" fill="#505050"/>
<rect x="1085" y="603" width="1" height="14" fill="#505050"/>
</g>
<text x="18" y="614.7" font-size="12.2" fill="#000" textLength="78.8" lengthAdjust="spacingAndGlyphs" stroke="#000" stroke-width="0.15">EURUSD,Daily</text>
<text x="120.3" y="614.7" font-size="12.2" fill="#757575" textLength="81.4" lengthAdjust="spacingAndGlyphs" stroke="#757575" stroke-width="0.15">AUDUSD,Daily</text>
<text x="223.6" y="614.7" font-size="12.2" fill="#757575" textLength="78.4" lengthAdjust="spacingAndGlyphs" stroke="#757575" stroke-width="0.15">USDCHF,Daily</text>
<text x="324.6" y="614.7" font-size="12.2" fill="#757575" textLength="80.4" lengthAdjust="spacingAndGlyphs" stroke="#757575" stroke-width="0.15">USDCAD,Daily</text>
<text x="427.5" y="614.7" font-size="12.2" fill="#757575" textLength="82.3" lengthAdjust="spacingAndGlyphs" stroke="#757575" stroke-width="0.15">USDCNH,Daily</text>
<text x="532.3" y="614.7" font-size="12.2" fill="#757575" textLength="80.4" lengthAdjust="spacingAndGlyphs" stroke="#757575" stroke-width="0.15">XAUUSD,Daily</text>
<text x="635.6" y="614.7" font-size="12.2" fill="#757575" textLength="46.3" lengthAdjust="spacingAndGlyphs" stroke="#757575" stroke-width="0.15">DJ30,H4</text>
<text x="705" y="614.7" font-size="12.2" fill="#757575" textLength="72.2" lengthAdjust="spacingAndGlyphs" stroke="#757575" stroke-width="0.15">USDOil,Daily</text>
<text x="799.5" y="614.7" font-size="12.2" fill="#757575" textLength="78.8" lengthAdjust="spacingAndGlyphs" stroke="#757575" stroke-width="0.15">USDCHF,Daily</text>
<text x="901.4" y="614.7" font-size="12.2" fill="#757575" textLength="79.8" lengthAdjust="spacingAndGlyphs" stroke="#757575" stroke-width="0.15">GBPUSD,Daily</text>
<text x="1005.3" y="614.7" font-size="12.2" fill="#757575" textLength="67.5" lengthAdjust="spacingAndGlyphs" stroke="#757575" stroke-width="0.15">EURUSD,H1</text>
<text x="1096.5" y="614.7" font-size="12.2" fill="#757575" textLength="67.8" lengthAdjust="spacingAndGlyphs" stroke="#757575" stroke-width="0.15">GBPAUD,H1</text>
<path d="M1185 605 L1185 612 L1181.5 608.5 Z" fill="#a0a0a0"/>
<path d="M1200.5 605 L1200.5 612 L1204 608.5 Z" fill="#000"/>
<text x="0.5" y="12" font-size="9.8" fill="#404040" textLength="4.5" lengthAdjust="spacingAndGlyphs" stroke="#404040" stroke-width="0.2">5</text>
<text x="15.4" y="12" font-size="9.8" fill="#404040" textLength="17.9" lengthAdjust="spacingAndGlyphs" stroke="#404040" stroke-width="0.2">M30</text>
<text x="46.7" y="12" font-size="9.8" fill="#404040" textLength="11.3" lengthAdjust="spacingAndGlyphs" stroke="#404040" stroke-width="0.2">H1</text>
<text x="73.5" y="12" font-size="9.8" fill="#404040" textLength="12.5" lengthAdjust="spacingAndGlyphs" stroke="#404040" stroke-width="0.2">H4</text>
<text x="102.8" y="12" font-size="9.8" fill="#404040" textLength="11.2" lengthAdjust="spacingAndGlyphs" stroke="#404040" stroke-width="0.2">D1</text>
<text x="130" y="12" font-size="9.8" fill="#404040" textLength="14.5" lengthAdjust="spacingAndGlyphs" stroke="#404040" stroke-width="0.2">W1</text>
<text x="156.8" y="12" font-size="9.8" fill="#404040" textLength="14.5" lengthAdjust="spacingAndGlyphs" stroke="#404040" stroke-width="0.2">MN</text>
</svg></body></html>
